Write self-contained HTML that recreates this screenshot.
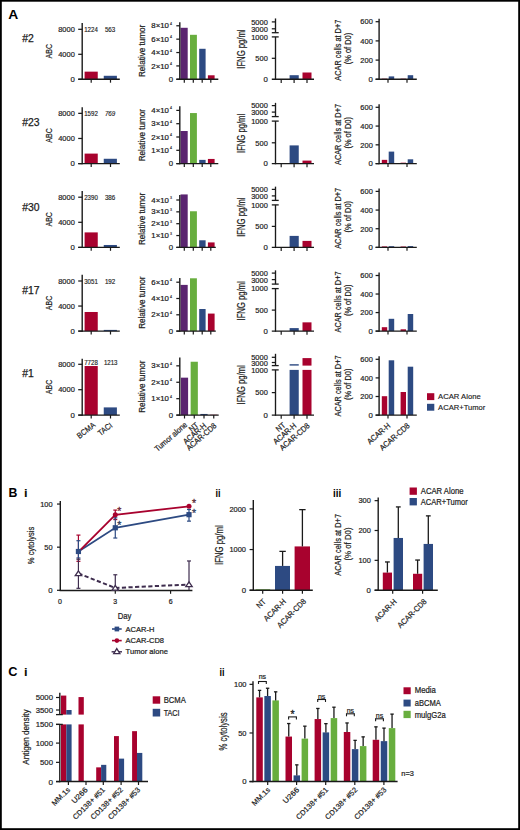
<!DOCTYPE html>
<html><head><meta charset="utf-8"><title>Figure</title>
<style>
html,body{margin:0;padding:0;background:#fff;overflow:hidden;width:520px;height:830px;}
svg{display:block;}
text{font-family:"Liberation Sans", sans-serif;}
</style></head>
<body>
<svg width="520" height="830" viewBox="0 0 520 830">
<rect x="0" y="0" width="520" height="830" fill="#fff"/>
<text x="8.30" y="18.80" font-size="13.6" fill="#000" text-anchor="start" font-weight="bold" textLength="10.0" lengthAdjust="spacingAndGlyphs">A</text>
<text x="8.40" y="497.20" font-size="13.0" fill="#000" text-anchor="start" font-weight="bold" textLength="8.9" lengthAdjust="spacingAndGlyphs">B</text>
<text x="24.30" y="497.30" font-size="11" fill="#000" text-anchor="start" stroke="#000" stroke-width="0.22" font-weight="bold">i</text>
<text x="215.40" y="497.30" font-size="11" fill="#000" text-anchor="start" font-weight="bold" textLength="5.0" lengthAdjust="spacingAndGlyphs">ii</text>
<text x="333.00" y="497.30" font-size="11" fill="#000" text-anchor="start" font-weight="bold" textLength="8.2" lengthAdjust="spacingAndGlyphs">iii</text>
<text x="8.20" y="675.60" font-size="13.0" fill="#000" text-anchor="start" font-weight="bold" textLength="9.2" lengthAdjust="spacingAndGlyphs">C</text>
<text x="24.30" y="675.50" font-size="11" fill="#000" text-anchor="start" stroke="#000" stroke-width="0.22" font-weight="bold">i</text>
<text x="219.50" y="675.50" font-size="11" fill="#000" text-anchor="start" font-weight="bold" textLength="5.0" lengthAdjust="spacingAndGlyphs">ii</text>
<text x="22.30" y="41.50" font-size="10.4" fill="#1a1a1a" text-anchor="start" stroke="#1a1a1a" stroke-width="0.25">#2</text>
<rect x="84.60" y="71.65" width="13.15" height="7.65" fill="#a8022e"/>
<rect x="103.75" y="75.78" width="13.15" height="3.52" fill="#2d4a82"/>
<line x1="82.20" y1="23.00" x2="82.20" y2="79.95" stroke="#1a1a1a" stroke-width="1.4" />
<line x1="78.30" y1="79.30" x2="119.80" y2="79.30" stroke="#1a1a1a" stroke-width="1.4" />
<line x1="78.20" y1="29.30" x2="82.20" y2="29.30" stroke="#1a1a1a" stroke-width="1.25" />
<text x="74.80" y="32.09" font-size="7.8" fill="#1c1c1c" text-anchor="end" stroke="#1c1c1c" stroke-width="0.2" textLength="16.6" lengthAdjust="spacingAndGlyphs">8000</text>
<line x1="78.20" y1="54.30" x2="82.20" y2="54.30" stroke="#1a1a1a" stroke-width="1.25" />
<text x="74.80" y="57.09" font-size="7.8" fill="#1c1c1c" text-anchor="end" stroke="#1c1c1c" stroke-width="0.2" textLength="16.6" lengthAdjust="spacingAndGlyphs">4000</text>
<line x1="78.20" y1="79.30" x2="82.20" y2="79.30" stroke="#1a1a1a" stroke-width="1.25" />
<text x="74.80" y="82.09" font-size="7.8" fill="#1c1c1c" text-anchor="end" stroke="#1c1c1c" stroke-width="0.2">0</text>
<line x1="91.20" y1="79.30" x2="91.20" y2="82.70" stroke="#1a1a1a" stroke-width="1.2" />
<line x1="110.50" y1="79.30" x2="110.50" y2="82.70" stroke="#1a1a1a" stroke-width="1.2" />
<text x="84.20" y="31.80" font-size="6.4" fill="#222" text-anchor="start" stroke="#222" stroke-width="0.15" textLength="13.6" lengthAdjust="spacingAndGlyphs">1224</text>
<text x="104.90" y="31.80" font-size="6.4" fill="#222" text-anchor="start" stroke="#222" stroke-width="0.15" textLength="10.4" lengthAdjust="spacingAndGlyphs">563</text>
<text transform="translate(51.70,51.20) rotate(-90)" font-size="8.4" fill="#1c1c1c" stroke="#1c1c1c" stroke-width="0.22" text-anchor="middle" textLength="14.5" lengthAdjust="spacingAndGlyphs">ABC</text>
<text transform="translate(144.70,50.90) rotate(-90)" font-size="8.5" fill="#1c1c1c" stroke="#1c1c1c" stroke-width="0.22" text-anchor="middle" textLength="52.2" lengthAdjust="spacingAndGlyphs">Relative tumor</text>
<text transform="translate(244.90,49.10) rotate(-90)" font-size="10.0" fill="#1c1c1c" stroke="#1c1c1c" stroke-width="0.22" text-anchor="middle" textLength="39.2" lengthAdjust="spacingAndGlyphs">IFNG pg/ml</text>
<text transform="translate(340.80,50.20) rotate(-90)" font-size="9.0" fill="#1c1c1c" stroke="#1c1c1c" stroke-width="0.22" text-anchor="middle" textLength="61.0" lengthAdjust="spacingAndGlyphs">ACAR cells at D+7</text>
<text transform="translate(351.40,48.55) rotate(-90)" font-size="9.0" fill="#1c1c1c" stroke="#1c1c1c" stroke-width="0.22" text-anchor="middle" textLength="31.5" lengthAdjust="spacingAndGlyphs">(% of D0)</text>
<text x="22.30" y="125.50" font-size="10.4" fill="#1a1a1a" text-anchor="start" stroke="#1a1a1a" stroke-width="0.25">#23</text>
<rect x="84.60" y="153.60" width="13.15" height="10.00" fill="#a8022e"/>
<rect x="103.75" y="158.77" width="13.15" height="4.83" fill="#2d4a82"/>
<line x1="82.20" y1="107.30" x2="82.20" y2="164.25" stroke="#1a1a1a" stroke-width="1.4" />
<line x1="78.30" y1="163.60" x2="119.80" y2="163.60" stroke="#1a1a1a" stroke-width="1.4" />
<line x1="78.20" y1="113.35" x2="82.20" y2="113.35" stroke="#1a1a1a" stroke-width="1.25" />
<text x="74.80" y="116.14" font-size="7.8" fill="#1c1c1c" text-anchor="end" stroke="#1c1c1c" stroke-width="0.2" textLength="16.6" lengthAdjust="spacingAndGlyphs">8000</text>
<line x1="78.20" y1="138.47" x2="82.20" y2="138.47" stroke="#1a1a1a" stroke-width="1.25" />
<text x="74.80" y="141.27" font-size="7.8" fill="#1c1c1c" text-anchor="end" stroke="#1c1c1c" stroke-width="0.2" textLength="16.6" lengthAdjust="spacingAndGlyphs">4000</text>
<line x1="78.20" y1="163.60" x2="82.20" y2="163.60" stroke="#1a1a1a" stroke-width="1.25" />
<text x="74.80" y="166.39" font-size="7.8" fill="#1c1c1c" text-anchor="end" stroke="#1c1c1c" stroke-width="0.2">0</text>
<line x1="91.20" y1="163.60" x2="91.20" y2="167.00" stroke="#1a1a1a" stroke-width="1.2" />
<line x1="110.50" y1="163.60" x2="110.50" y2="167.00" stroke="#1a1a1a" stroke-width="1.2" />
<text x="84.20" y="116.10" font-size="6.4" fill="#222" text-anchor="start" stroke="#222" stroke-width="0.15" textLength="13.6" lengthAdjust="spacingAndGlyphs">1592</text>
<text x="104.90" y="116.10" font-size="6.4" fill="#222" text-anchor="start" stroke="#222" stroke-width="0.15" textLength="10.4" lengthAdjust="spacingAndGlyphs" style="font-style:italic">769</text>
<text transform="translate(51.70,135.50) rotate(-90)" font-size="8.4" fill="#1c1c1c" stroke="#1c1c1c" stroke-width="0.22" text-anchor="middle" textLength="14.5" lengthAdjust="spacingAndGlyphs">ABC</text>
<text transform="translate(144.70,135.20) rotate(-90)" font-size="8.5" fill="#1c1c1c" stroke="#1c1c1c" stroke-width="0.22" text-anchor="middle" textLength="52.2" lengthAdjust="spacingAndGlyphs">Relative tumor</text>
<text transform="translate(244.90,133.40) rotate(-90)" font-size="10.0" fill="#1c1c1c" stroke="#1c1c1c" stroke-width="0.22" text-anchor="middle" textLength="39.2" lengthAdjust="spacingAndGlyphs">IFNG pg/ml</text>
<text transform="translate(340.80,134.50) rotate(-90)" font-size="9.0" fill="#1c1c1c" stroke="#1c1c1c" stroke-width="0.22" text-anchor="middle" textLength="61.0" lengthAdjust="spacingAndGlyphs">ACAR cells at D+7</text>
<text transform="translate(351.40,132.85) rotate(-90)" font-size="9.0" fill="#1c1c1c" stroke="#1c1c1c" stroke-width="0.22" text-anchor="middle" textLength="31.5" lengthAdjust="spacingAndGlyphs">(% of D0)</text>
<text x="22.30" y="211.30" font-size="10.4" fill="#1a1a1a" text-anchor="start" stroke="#1a1a1a" stroke-width="0.25">#30</text>
<rect x="84.60" y="232.40" width="13.15" height="15.00" fill="#a8022e"/>
<rect x="103.75" y="244.98" width="13.15" height="2.42" fill="#2d4a82"/>
<line x1="82.20" y1="191.10" x2="82.20" y2="248.05" stroke="#1a1a1a" stroke-width="1.4" />
<line x1="78.30" y1="247.40" x2="119.80" y2="247.40" stroke="#1a1a1a" stroke-width="1.4" />
<line x1="78.20" y1="197.20" x2="82.20" y2="197.20" stroke="#1a1a1a" stroke-width="1.25" />
<text x="74.80" y="199.99" font-size="7.8" fill="#1c1c1c" text-anchor="end" stroke="#1c1c1c" stroke-width="0.2" textLength="16.6" lengthAdjust="spacingAndGlyphs">8000</text>
<line x1="78.20" y1="222.30" x2="82.20" y2="222.30" stroke="#1a1a1a" stroke-width="1.25" />
<text x="74.80" y="225.09" font-size="7.8" fill="#1c1c1c" text-anchor="end" stroke="#1c1c1c" stroke-width="0.2" textLength="16.6" lengthAdjust="spacingAndGlyphs">4000</text>
<line x1="78.20" y1="247.40" x2="82.20" y2="247.40" stroke="#1a1a1a" stroke-width="1.25" />
<text x="74.80" y="250.19" font-size="7.8" fill="#1c1c1c" text-anchor="end" stroke="#1c1c1c" stroke-width="0.2">0</text>
<line x1="91.20" y1="247.40" x2="91.20" y2="250.80" stroke="#1a1a1a" stroke-width="1.2" />
<line x1="110.50" y1="247.40" x2="110.50" y2="250.80" stroke="#1a1a1a" stroke-width="1.2" />
<text x="84.20" y="199.90" font-size="6.4" fill="#222" text-anchor="start" stroke="#222" stroke-width="0.15" textLength="13.6" lengthAdjust="spacingAndGlyphs">2390</text>
<text x="104.90" y="199.90" font-size="6.4" fill="#222" text-anchor="start" stroke="#222" stroke-width="0.15" textLength="10.4" lengthAdjust="spacingAndGlyphs">386</text>
<text transform="translate(51.70,219.30) rotate(-90)" font-size="8.4" fill="#1c1c1c" stroke="#1c1c1c" stroke-width="0.22" text-anchor="middle" textLength="14.5" lengthAdjust="spacingAndGlyphs">ABC</text>
<text transform="translate(144.70,219.00) rotate(-90)" font-size="8.5" fill="#1c1c1c" stroke="#1c1c1c" stroke-width="0.22" text-anchor="middle" textLength="52.2" lengthAdjust="spacingAndGlyphs">Relative tumor</text>
<text transform="translate(244.90,217.20) rotate(-90)" font-size="10.0" fill="#1c1c1c" stroke="#1c1c1c" stroke-width="0.22" text-anchor="middle" textLength="39.2" lengthAdjust="spacingAndGlyphs">IFNG pg/ml</text>
<text transform="translate(340.80,218.30) rotate(-90)" font-size="9.0" fill="#1c1c1c" stroke="#1c1c1c" stroke-width="0.22" text-anchor="middle" textLength="61.0" lengthAdjust="spacingAndGlyphs">ACAR cells at D+7</text>
<text transform="translate(351.40,216.65) rotate(-90)" font-size="9.0" fill="#1c1c1c" stroke="#1c1c1c" stroke-width="0.22" text-anchor="middle" textLength="31.5" lengthAdjust="spacingAndGlyphs">(% of D0)</text>
<text x="22.30" y="293.90" font-size="10.4" fill="#1a1a1a" text-anchor="start" stroke="#1a1a1a" stroke-width="0.25">#17</text>
<rect x="84.60" y="311.99" width="13.15" height="19.11" fill="#a8022e"/>
<rect x="103.75" y="329.90" width="13.15" height="1.20" fill="#2d4a82"/>
<line x1="82.20" y1="274.80" x2="82.20" y2="331.75" stroke="#1a1a1a" stroke-width="1.4" />
<line x1="78.30" y1="331.10" x2="119.80" y2="331.10" stroke="#1a1a1a" stroke-width="1.4" />
<line x1="78.20" y1="281.00" x2="82.20" y2="281.00" stroke="#1a1a1a" stroke-width="1.25" />
<text x="74.80" y="283.79" font-size="7.8" fill="#1c1c1c" text-anchor="end" stroke="#1c1c1c" stroke-width="0.2" textLength="16.6" lengthAdjust="spacingAndGlyphs">8000</text>
<line x1="78.20" y1="306.05" x2="82.20" y2="306.05" stroke="#1a1a1a" stroke-width="1.25" />
<text x="74.80" y="308.84" font-size="7.8" fill="#1c1c1c" text-anchor="end" stroke="#1c1c1c" stroke-width="0.2" textLength="16.6" lengthAdjust="spacingAndGlyphs">4000</text>
<line x1="78.20" y1="331.10" x2="82.20" y2="331.10" stroke="#1a1a1a" stroke-width="1.25" />
<text x="74.80" y="333.89" font-size="7.8" fill="#1c1c1c" text-anchor="end" stroke="#1c1c1c" stroke-width="0.2">0</text>
<line x1="91.20" y1="331.10" x2="91.20" y2="334.50" stroke="#1a1a1a" stroke-width="1.2" />
<line x1="110.50" y1="331.10" x2="110.50" y2="334.50" stroke="#1a1a1a" stroke-width="1.2" />
<text x="84.20" y="283.60" font-size="6.4" fill="#222" text-anchor="start" stroke="#222" stroke-width="0.15" textLength="13.6" lengthAdjust="spacingAndGlyphs">3051</text>
<text x="104.90" y="283.60" font-size="6.4" fill="#222" text-anchor="start" stroke="#222" stroke-width="0.15" textLength="10.4" lengthAdjust="spacingAndGlyphs">192</text>
<text transform="translate(51.70,303.00) rotate(-90)" font-size="8.4" fill="#1c1c1c" stroke="#1c1c1c" stroke-width="0.22" text-anchor="middle" textLength="14.5" lengthAdjust="spacingAndGlyphs">ABC</text>
<text transform="translate(144.70,302.70) rotate(-90)" font-size="8.5" fill="#1c1c1c" stroke="#1c1c1c" stroke-width="0.22" text-anchor="middle" textLength="52.2" lengthAdjust="spacingAndGlyphs">Relative tumor</text>
<text transform="translate(244.90,300.90) rotate(-90)" font-size="10.0" fill="#1c1c1c" stroke="#1c1c1c" stroke-width="0.22" text-anchor="middle" textLength="39.2" lengthAdjust="spacingAndGlyphs">IFNG pg/ml</text>
<text transform="translate(340.80,302.00) rotate(-90)" font-size="9.0" fill="#1c1c1c" stroke="#1c1c1c" stroke-width="0.22" text-anchor="middle" textLength="61.0" lengthAdjust="spacingAndGlyphs">ACAR cells at D+7</text>
<text transform="translate(351.40,300.35) rotate(-90)" font-size="9.0" fill="#1c1c1c" stroke="#1c1c1c" stroke-width="0.22" text-anchor="middle" textLength="31.5" lengthAdjust="spacingAndGlyphs">(% of D0)</text>
<text x="22.30" y="376.50" font-size="10.4" fill="#1a1a1a" text-anchor="start" stroke="#1a1a1a" stroke-width="0.25">#1</text>
<rect x="84.60" y="366.03" width="13.15" height="49.07" fill="#a8022e"/>
<rect x="103.75" y="407.40" width="13.15" height="7.70" fill="#2d4a82"/>
<line x1="82.20" y1="358.80" x2="82.20" y2="415.75" stroke="#1a1a1a" stroke-width="1.4" />
<line x1="78.30" y1="415.10" x2="119.80" y2="415.10" stroke="#1a1a1a" stroke-width="1.4" />
<line x1="78.20" y1="364.30" x2="82.20" y2="364.30" stroke="#1a1a1a" stroke-width="1.25" />
<text x="74.80" y="367.09" font-size="7.8" fill="#1c1c1c" text-anchor="end" stroke="#1c1c1c" stroke-width="0.2" textLength="16.6" lengthAdjust="spacingAndGlyphs">8000</text>
<line x1="78.20" y1="389.70" x2="82.20" y2="389.70" stroke="#1a1a1a" stroke-width="1.25" />
<text x="74.80" y="392.49" font-size="7.8" fill="#1c1c1c" text-anchor="end" stroke="#1c1c1c" stroke-width="0.2" textLength="16.6" lengthAdjust="spacingAndGlyphs">4000</text>
<line x1="78.20" y1="415.10" x2="82.20" y2="415.10" stroke="#1a1a1a" stroke-width="1.25" />
<text x="74.80" y="417.89" font-size="7.8" fill="#1c1c1c" text-anchor="end" stroke="#1c1c1c" stroke-width="0.2">0</text>
<line x1="91.20" y1="415.10" x2="91.20" y2="418.50" stroke="#1a1a1a" stroke-width="1.2" />
<line x1="110.50" y1="415.10" x2="110.50" y2="418.50" stroke="#1a1a1a" stroke-width="1.2" />
<text x="84.20" y="364.60" font-size="6.4" fill="#222" text-anchor="start" stroke="#222" stroke-width="0.15" textLength="13.6" lengthAdjust="spacingAndGlyphs">7728</text>
<text x="103.90" y="364.60" font-size="6.4" fill="#222" text-anchor="start" stroke="#222" stroke-width="0.15" textLength="13.6" lengthAdjust="spacingAndGlyphs">1213</text>
<text transform="translate(51.70,387.00) rotate(-90)" font-size="8.4" fill="#1c1c1c" stroke="#1c1c1c" stroke-width="0.22" text-anchor="middle" textLength="14.5" lengthAdjust="spacingAndGlyphs">ABC</text>
<text transform="translate(144.70,386.70) rotate(-90)" font-size="8.5" fill="#1c1c1c" stroke="#1c1c1c" stroke-width="0.22" text-anchor="middle" textLength="52.2" lengthAdjust="spacingAndGlyphs">Relative tumor</text>
<text transform="translate(244.90,384.90) rotate(-90)" font-size="10.0" fill="#1c1c1c" stroke="#1c1c1c" stroke-width="0.22" text-anchor="middle" textLength="39.2" lengthAdjust="spacingAndGlyphs">IFNG pg/ml</text>
<text transform="translate(340.80,386.00) rotate(-90)" font-size="9.0" fill="#1c1c1c" stroke="#1c1c1c" stroke-width="0.22" text-anchor="middle" textLength="61.0" lengthAdjust="spacingAndGlyphs">ACAR cells at D+7</text>
<text transform="translate(351.40,384.35) rotate(-90)" font-size="9.0" fill="#1c1c1c" stroke="#1c1c1c" stroke-width="0.22" text-anchor="middle" textLength="31.5" lengthAdjust="spacingAndGlyphs">(% of D0)</text>
<rect x="180.50" y="27.79" width="7.20" height="51.51" fill="#5a2470"/>
<rect x="190.00" y="34.81" width="6.90" height="44.49" fill="#68ae3e"/>
<rect x="199.20" y="48.79" width="6.40" height="30.51" fill="#2d4a82"/>
<rect x="207.90" y="75.29" width="6.70" height="4.01" fill="#a8022e"/>
<line x1="179.80" y1="22.30" x2="179.80" y2="79.95" stroke="#1a1a1a" stroke-width="1.4" />
<line x1="176.40" y1="79.30" x2="218.30" y2="79.30" stroke="#1a1a1a" stroke-width="1.4" />
<line x1="184.30" y1="79.30" x2="184.30" y2="82.70" stroke="#1a1a1a" stroke-width="1.2" />
<line x1="193.30" y1="79.30" x2="193.30" y2="82.70" stroke="#1a1a1a" stroke-width="1.2" />
<line x1="202.20" y1="79.30" x2="202.20" y2="82.70" stroke="#1a1a1a" stroke-width="1.2" />
<line x1="210.80" y1="79.30" x2="210.80" y2="82.70" stroke="#1a1a1a" stroke-width="1.2" />
<line x1="176.30" y1="25.78" x2="179.80" y2="25.78" stroke="#1a1a1a" stroke-width="1.25" />
<text x="151.30" y="28.38" font-size="7.3" fill="#1c1c1c" text-anchor="start" stroke="#1c1c1c" stroke-width="0.22" textLength="17.6" lengthAdjust="spacingAndGlyphs">8×10</text>
<text x="170.00" y="24.78" font-size="4.0" fill="#1c1c1c" text-anchor="start" stroke="#1c1c1c" stroke-width="0.15" textLength="2.0" lengthAdjust="spacingAndGlyphs">4</text>
<line x1="176.30" y1="39.16" x2="179.80" y2="39.16" stroke="#1a1a1a" stroke-width="1.25" />
<text x="151.30" y="41.76" font-size="7.3" fill="#1c1c1c" text-anchor="start" stroke="#1c1c1c" stroke-width="0.22" textLength="17.6" lengthAdjust="spacingAndGlyphs">6×10</text>
<text x="170.00" y="38.16" font-size="4.0" fill="#1c1c1c" text-anchor="start" stroke="#1c1c1c" stroke-width="0.15" textLength="2.0" lengthAdjust="spacingAndGlyphs">4</text>
<line x1="176.30" y1="52.54" x2="179.80" y2="52.54" stroke="#1a1a1a" stroke-width="1.25" />
<text x="151.30" y="55.14" font-size="7.3" fill="#1c1c1c" text-anchor="start" stroke="#1c1c1c" stroke-width="0.22" textLength="17.6" lengthAdjust="spacingAndGlyphs">4×10</text>
<text x="170.00" y="51.54" font-size="4.0" fill="#1c1c1c" text-anchor="start" stroke="#1c1c1c" stroke-width="0.15" textLength="2.0" lengthAdjust="spacingAndGlyphs">4</text>
<line x1="176.30" y1="65.92" x2="179.80" y2="65.92" stroke="#1a1a1a" stroke-width="1.25" />
<text x="151.30" y="68.52" font-size="7.3" fill="#1c1c1c" text-anchor="start" stroke="#1c1c1c" stroke-width="0.22" textLength="17.6" lengthAdjust="spacingAndGlyphs">2×10</text>
<text x="170.00" y="64.92" font-size="4.0" fill="#1c1c1c" text-anchor="start" stroke="#1c1c1c" stroke-width="0.15" textLength="2.0" lengthAdjust="spacingAndGlyphs">4</text>
<line x1="176.30" y1="79.30" x2="179.80" y2="79.30" stroke="#1a1a1a" stroke-width="1.25" />
<text x="173.00" y="82.09" font-size="7.8" fill="#1c1c1c" text-anchor="end" stroke="#1c1c1c" stroke-width="0.2">0</text>
<rect x="180.50" y="131.01" width="7.20" height="32.59" fill="#5a2470"/>
<rect x="190.00" y="113.06" width="6.90" height="50.54" fill="#68ae3e"/>
<rect x="199.20" y="159.88" width="6.40" height="3.72" fill="#2d4a82"/>
<rect x="207.90" y="158.94" width="6.70" height="4.66" fill="#a8022e"/>
<line x1="179.80" y1="106.30" x2="179.80" y2="164.25" stroke="#1a1a1a" stroke-width="1.4" />
<line x1="176.40" y1="163.60" x2="218.30" y2="163.60" stroke="#1a1a1a" stroke-width="1.4" />
<line x1="184.30" y1="163.60" x2="184.30" y2="167.00" stroke="#1a1a1a" stroke-width="1.2" />
<line x1="193.30" y1="163.60" x2="193.30" y2="167.00" stroke="#1a1a1a" stroke-width="1.2" />
<line x1="202.20" y1="163.60" x2="202.20" y2="167.00" stroke="#1a1a1a" stroke-width="1.2" />
<line x1="210.80" y1="163.60" x2="210.80" y2="167.00" stroke="#1a1a1a" stroke-width="1.2" />
<line x1="176.30" y1="110.40" x2="179.80" y2="110.40" stroke="#1a1a1a" stroke-width="1.25" />
<text x="151.30" y="113.00" font-size="7.3" fill="#1c1c1c" text-anchor="start" stroke="#1c1c1c" stroke-width="0.22" textLength="17.6" lengthAdjust="spacingAndGlyphs">4×10</text>
<text x="170.00" y="109.40" font-size="4.0" fill="#1c1c1c" text-anchor="start" stroke="#1c1c1c" stroke-width="0.15" textLength="2.0" lengthAdjust="spacingAndGlyphs">4</text>
<line x1="176.30" y1="123.70" x2="179.80" y2="123.70" stroke="#1a1a1a" stroke-width="1.25" />
<text x="151.30" y="126.30" font-size="7.3" fill="#1c1c1c" text-anchor="start" stroke="#1c1c1c" stroke-width="0.22" textLength="17.6" lengthAdjust="spacingAndGlyphs">3×10</text>
<text x="170.00" y="122.70" font-size="4.0" fill="#1c1c1c" text-anchor="start" stroke="#1c1c1c" stroke-width="0.15" textLength="2.0" lengthAdjust="spacingAndGlyphs">4</text>
<line x1="176.30" y1="137.00" x2="179.80" y2="137.00" stroke="#1a1a1a" stroke-width="1.25" />
<text x="151.30" y="139.60" font-size="7.3" fill="#1c1c1c" text-anchor="start" stroke="#1c1c1c" stroke-width="0.22" textLength="17.6" lengthAdjust="spacingAndGlyphs">2×10</text>
<text x="170.00" y="136.00" font-size="4.0" fill="#1c1c1c" text-anchor="start" stroke="#1c1c1c" stroke-width="0.15" textLength="2.0" lengthAdjust="spacingAndGlyphs">4</text>
<line x1="176.30" y1="150.30" x2="179.80" y2="150.30" stroke="#1a1a1a" stroke-width="1.25" />
<text x="151.30" y="152.90" font-size="7.3" fill="#1c1c1c" text-anchor="start" stroke="#1c1c1c" stroke-width="0.22" textLength="17.6" lengthAdjust="spacingAndGlyphs">1×10</text>
<text x="170.00" y="149.30" font-size="4.0" fill="#1c1c1c" text-anchor="start" stroke="#1c1c1c" stroke-width="0.15" textLength="2.0" lengthAdjust="spacingAndGlyphs">4</text>
<line x1="176.30" y1="163.60" x2="179.80" y2="163.60" stroke="#1a1a1a" stroke-width="1.25" />
<text x="173.00" y="166.39" font-size="7.8" fill="#1c1c1c" text-anchor="end" stroke="#1c1c1c" stroke-width="0.2">0</text>
<rect x="180.50" y="194.43" width="7.20" height="52.97" fill="#5a2470"/>
<rect x="190.00" y="211.26" width="6.90" height="36.14" fill="#68ae3e"/>
<rect x="199.20" y="240.29" width="6.40" height="7.11" fill="#2d4a82"/>
<rect x="207.90" y="242.42" width="6.70" height="4.98" fill="#a8022e"/>
<line x1="179.80" y1="194.90" x2="179.80" y2="248.05" stroke="#1a1a1a" stroke-width="1.4" />
<line x1="176.40" y1="247.40" x2="215.80" y2="247.40" stroke="#1a1a1a" stroke-width="1.4" />
<line x1="184.30" y1="247.40" x2="184.30" y2="250.80" stroke="#1a1a1a" stroke-width="1.2" />
<line x1="193.30" y1="247.40" x2="193.30" y2="250.80" stroke="#1a1a1a" stroke-width="1.2" />
<line x1="202.20" y1="247.40" x2="202.20" y2="250.80" stroke="#1a1a1a" stroke-width="1.2" />
<line x1="210.80" y1="247.40" x2="210.80" y2="250.80" stroke="#1a1a1a" stroke-width="1.2" />
<line x1="176.30" y1="200.00" x2="179.80" y2="200.00" stroke="#1a1a1a" stroke-width="1.25" />
<text x="151.30" y="202.60" font-size="7.3" fill="#1c1c1c" text-anchor="start" stroke="#1c1c1c" stroke-width="0.22" textLength="17.6" lengthAdjust="spacingAndGlyphs">4×10</text>
<text x="170.00" y="199.00" font-size="4.0" fill="#1c1c1c" text-anchor="start" stroke="#1c1c1c" stroke-width="0.15" textLength="2.0" lengthAdjust="spacingAndGlyphs">3</text>
<line x1="176.30" y1="211.85" x2="179.80" y2="211.85" stroke="#1a1a1a" stroke-width="1.25" />
<text x="151.30" y="214.45" font-size="7.3" fill="#1c1c1c" text-anchor="start" stroke="#1c1c1c" stroke-width="0.22" textLength="17.6" lengthAdjust="spacingAndGlyphs">3×10</text>
<text x="170.00" y="210.85" font-size="4.0" fill="#1c1c1c" text-anchor="start" stroke="#1c1c1c" stroke-width="0.15" textLength="2.0" lengthAdjust="spacingAndGlyphs">3</text>
<line x1="176.30" y1="223.70" x2="179.80" y2="223.70" stroke="#1a1a1a" stroke-width="1.25" />
<text x="151.30" y="226.30" font-size="7.3" fill="#1c1c1c" text-anchor="start" stroke="#1c1c1c" stroke-width="0.22" textLength="17.6" lengthAdjust="spacingAndGlyphs">2×10</text>
<text x="170.00" y="222.70" font-size="4.0" fill="#1c1c1c" text-anchor="start" stroke="#1c1c1c" stroke-width="0.15" textLength="2.0" lengthAdjust="spacingAndGlyphs">3</text>
<line x1="176.30" y1="235.55" x2="179.80" y2="235.55" stroke="#1a1a1a" stroke-width="1.25" />
<text x="151.30" y="238.15" font-size="7.3" fill="#1c1c1c" text-anchor="start" stroke="#1c1c1c" stroke-width="0.22" textLength="17.6" lengthAdjust="spacingAndGlyphs">1×10</text>
<text x="170.00" y="234.55" font-size="4.0" fill="#1c1c1c" text-anchor="start" stroke="#1c1c1c" stroke-width="0.15" textLength="2.0" lengthAdjust="spacingAndGlyphs">3</text>
<line x1="176.30" y1="247.40" x2="179.80" y2="247.40" stroke="#1a1a1a" stroke-width="1.25" />
<text x="173.00" y="250.19" font-size="7.8" fill="#1c1c1c" text-anchor="end" stroke="#1c1c1c" stroke-width="0.2">0</text>
<rect x="180.50" y="284.89" width="7.20" height="46.21" fill="#5a2470"/>
<rect x="190.00" y="278.29" width="6.90" height="52.81" fill="#68ae3e"/>
<rect x="199.20" y="309.01" width="6.40" height="22.09" fill="#2d4a82"/>
<rect x="207.90" y="313.58" width="6.70" height="17.52" fill="#a8022e"/>
<line x1="179.80" y1="277.90" x2="179.80" y2="331.75" stroke="#1a1a1a" stroke-width="1.4" />
<line x1="176.40" y1="331.10" x2="215.80" y2="331.10" stroke="#1a1a1a" stroke-width="1.4" />
<line x1="184.30" y1="331.10" x2="184.30" y2="334.50" stroke="#1a1a1a" stroke-width="1.2" />
<line x1="193.30" y1="331.10" x2="193.30" y2="334.50" stroke="#1a1a1a" stroke-width="1.2" />
<line x1="202.20" y1="331.10" x2="202.20" y2="334.50" stroke="#1a1a1a" stroke-width="1.2" />
<line x1="210.80" y1="331.10" x2="210.80" y2="334.50" stroke="#1a1a1a" stroke-width="1.2" />
<line x1="176.30" y1="282.20" x2="179.80" y2="282.20" stroke="#1a1a1a" stroke-width="1.25" />
<text x="151.30" y="284.80" font-size="7.3" fill="#1c1c1c" text-anchor="start" stroke="#1c1c1c" stroke-width="0.22" textLength="17.6" lengthAdjust="spacingAndGlyphs">6×10</text>
<text x="170.00" y="281.20" font-size="4.0" fill="#1c1c1c" text-anchor="start" stroke="#1c1c1c" stroke-width="0.15" textLength="2.0" lengthAdjust="spacingAndGlyphs">4</text>
<line x1="176.30" y1="298.50" x2="179.80" y2="298.50" stroke="#1a1a1a" stroke-width="1.25" />
<text x="151.30" y="301.10" font-size="7.3" fill="#1c1c1c" text-anchor="start" stroke="#1c1c1c" stroke-width="0.22" textLength="17.6" lengthAdjust="spacingAndGlyphs">4×10</text>
<text x="170.00" y="297.50" font-size="4.0" fill="#1c1c1c" text-anchor="start" stroke="#1c1c1c" stroke-width="0.15" textLength="2.0" lengthAdjust="spacingAndGlyphs">4</text>
<line x1="176.30" y1="314.80" x2="179.80" y2="314.80" stroke="#1a1a1a" stroke-width="1.25" />
<text x="151.30" y="317.40" font-size="7.3" fill="#1c1c1c" text-anchor="start" stroke="#1c1c1c" stroke-width="0.22" textLength="17.6" lengthAdjust="spacingAndGlyphs">2×10</text>
<text x="170.00" y="313.80" font-size="4.0" fill="#1c1c1c" text-anchor="start" stroke="#1c1c1c" stroke-width="0.15" textLength="2.0" lengthAdjust="spacingAndGlyphs">4</text>
<line x1="176.30" y1="331.10" x2="179.80" y2="331.10" stroke="#1a1a1a" stroke-width="1.25" />
<text x="173.00" y="333.89" font-size="7.8" fill="#1c1c1c" text-anchor="end" stroke="#1c1c1c" stroke-width="0.2">0</text>
<rect x="180.90" y="377.66" width="7.20" height="37.44" fill="#5a2470"/>
<rect x="190.65" y="361.74" width="7.20" height="53.37" fill="#68ae3e"/>
<rect x="200.40" y="413.95" width="7.20" height="1.15" fill="#2d4a82"/>
<rect x="210.15" y="414.77" width="7.20" height="0.33" fill="#a8022e"/>
<line x1="179.80" y1="357.60" x2="179.80" y2="415.75" stroke="#1a1a1a" stroke-width="1.4" />
<line x1="176.40" y1="415.10" x2="218.70" y2="415.10" stroke="#1a1a1a" stroke-width="1.4" />
<line x1="184.50" y1="415.10" x2="184.50" y2="418.50" stroke="#1a1a1a" stroke-width="1.2" />
<line x1="194.25" y1="415.10" x2="194.25" y2="418.50" stroke="#1a1a1a" stroke-width="1.2" />
<line x1="204.00" y1="415.10" x2="204.00" y2="418.50" stroke="#1a1a1a" stroke-width="1.2" />
<line x1="213.75" y1="415.10" x2="213.75" y2="418.50" stroke="#1a1a1a" stroke-width="1.2" />
<line x1="176.30" y1="365.84" x2="179.80" y2="365.84" stroke="#1a1a1a" stroke-width="1.25" />
<text x="151.30" y="368.44" font-size="7.3" fill="#1c1c1c" text-anchor="start" stroke="#1c1c1c" stroke-width="0.22" textLength="17.6" lengthAdjust="spacingAndGlyphs">3×10</text>
<text x="170.00" y="364.84" font-size="4.0" fill="#1c1c1c" text-anchor="start" stroke="#1c1c1c" stroke-width="0.15" textLength="2.0" lengthAdjust="spacingAndGlyphs">4</text>
<line x1="176.30" y1="382.26" x2="179.80" y2="382.26" stroke="#1a1a1a" stroke-width="1.25" />
<text x="151.30" y="384.86" font-size="7.3" fill="#1c1c1c" text-anchor="start" stroke="#1c1c1c" stroke-width="0.22" textLength="17.6" lengthAdjust="spacingAndGlyphs">2×10</text>
<text x="170.00" y="381.26" font-size="4.0" fill="#1c1c1c" text-anchor="start" stroke="#1c1c1c" stroke-width="0.15" textLength="2.0" lengthAdjust="spacingAndGlyphs">4</text>
<line x1="176.30" y1="398.68" x2="179.80" y2="398.68" stroke="#1a1a1a" stroke-width="1.25" />
<text x="151.30" y="401.28" font-size="7.3" fill="#1c1c1c" text-anchor="start" stroke="#1c1c1c" stroke-width="0.22" textLength="17.6" lengthAdjust="spacingAndGlyphs">1×10</text>
<text x="170.00" y="397.68" font-size="4.0" fill="#1c1c1c" text-anchor="start" stroke="#1c1c1c" stroke-width="0.15" textLength="2.0" lengthAdjust="spacingAndGlyphs">4</text>
<line x1="176.30" y1="415.10" x2="179.80" y2="415.10" stroke="#1a1a1a" stroke-width="1.25" />
<text x="173.00" y="417.89" font-size="7.8" fill="#1c1c1c" text-anchor="end" stroke="#1c1c1c" stroke-width="0.2">0</text>
<rect x="289.60" y="75.20" width="9.15" height="4.10" fill="#2d4a82"/>
<rect x="302.50" y="72.50" width="9.00" height="6.80" fill="#a8022e"/>
<line x1="275.50" y1="18.45" x2="275.50" y2="32.70" stroke="#1a1a1a" stroke-width="1.35" />
<line x1="275.50" y1="36.90" x2="275.50" y2="79.95" stroke="#1a1a1a" stroke-width="1.35" />
<line x1="271.80" y1="32.70" x2="278.70" y2="32.70" stroke="#1a1a1a" stroke-width="1.3" />
<line x1="271.80" y1="36.90" x2="278.70" y2="36.90" stroke="#1a1a1a" stroke-width="1.3" />
<line x1="271.80" y1="79.30" x2="314.00" y2="79.30" stroke="#1a1a1a" stroke-width="1.4" />
<line x1="271.80" y1="21.90" x2="275.50" y2="21.90" stroke="#1a1a1a" stroke-width="1.25" />
<line x1="271.80" y1="28.80" x2="275.50" y2="28.80" stroke="#1a1a1a" stroke-width="1.25" />
<line x1="271.80" y1="58.30" x2="275.50" y2="58.30" stroke="#1a1a1a" stroke-width="1.25" />
<line x1="281.20" y1="79.30" x2="281.20" y2="82.90" stroke="#1a1a1a" stroke-width="1.2" />
<line x1="294.10" y1="79.30" x2="294.10" y2="82.90" stroke="#1a1a1a" stroke-width="1.2" />
<line x1="307.00" y1="79.30" x2="307.00" y2="82.90" stroke="#1a1a1a" stroke-width="1.2" />
<text x="267.80" y="24.69" font-size="7.8" fill="#1c1c1c" text-anchor="end" stroke="#1c1c1c" stroke-width="0.2" textLength="16.6" lengthAdjust="spacingAndGlyphs">5000</text>
<text x="267.80" y="31.89" font-size="7.8" fill="#1c1c1c" text-anchor="end" stroke="#1c1c1c" stroke-width="0.2" textLength="16.6" lengthAdjust="spacingAndGlyphs">3000</text>
<text x="267.80" y="39.69" font-size="7.8" fill="#1c1c1c" text-anchor="end" stroke="#1c1c1c" stroke-width="0.2" textLength="16.6" lengthAdjust="spacingAndGlyphs">1000</text>
<text x="267.80" y="61.09" font-size="7.8" fill="#1c1c1c" text-anchor="end" stroke="#1c1c1c" stroke-width="0.2" textLength="12.45" lengthAdjust="spacingAndGlyphs">500</text>
<text x="267.80" y="82.09" font-size="7.8" fill="#1c1c1c" text-anchor="end" stroke="#1c1c1c" stroke-width="0.2">0</text>
<rect x="289.60" y="145.40" width="9.15" height="18.20" fill="#2d4a82"/>
<rect x="302.50" y="160.60" width="9.00" height="3.00" fill="#a8022e"/>
<line x1="275.50" y1="102.85" x2="275.50" y2="116.60" stroke="#1a1a1a" stroke-width="1.35" />
<line x1="275.50" y1="121.10" x2="275.50" y2="164.25" stroke="#1a1a1a" stroke-width="1.35" />
<line x1="271.80" y1="116.60" x2="278.70" y2="116.60" stroke="#1a1a1a" stroke-width="1.3" />
<line x1="271.80" y1="121.10" x2="278.70" y2="121.10" stroke="#1a1a1a" stroke-width="1.3" />
<line x1="271.80" y1="163.60" x2="314.00" y2="163.60" stroke="#1a1a1a" stroke-width="1.4" />
<line x1="271.80" y1="105.60" x2="275.50" y2="105.60" stroke="#1a1a1a" stroke-width="1.25" />
<line x1="271.80" y1="112.10" x2="275.50" y2="112.10" stroke="#1a1a1a" stroke-width="1.25" />
<line x1="271.80" y1="142.80" x2="275.50" y2="142.80" stroke="#1a1a1a" stroke-width="1.25" />
<line x1="281.20" y1="163.60" x2="281.20" y2="167.20" stroke="#1a1a1a" stroke-width="1.2" />
<line x1="294.10" y1="163.60" x2="294.10" y2="167.20" stroke="#1a1a1a" stroke-width="1.2" />
<line x1="307.00" y1="163.60" x2="307.00" y2="167.20" stroke="#1a1a1a" stroke-width="1.2" />
<text x="267.80" y="108.39" font-size="7.8" fill="#1c1c1c" text-anchor="end" stroke="#1c1c1c" stroke-width="0.2" textLength="16.6" lengthAdjust="spacingAndGlyphs">5000</text>
<text x="267.80" y="115.19" font-size="7.8" fill="#1c1c1c" text-anchor="end" stroke="#1c1c1c" stroke-width="0.2" textLength="16.6" lengthAdjust="spacingAndGlyphs">3000</text>
<text x="267.80" y="123.89" font-size="7.8" fill="#1c1c1c" text-anchor="end" stroke="#1c1c1c" stroke-width="0.2" textLength="16.6" lengthAdjust="spacingAndGlyphs">1000</text>
<text x="267.80" y="145.59" font-size="7.8" fill="#1c1c1c" text-anchor="end" stroke="#1c1c1c" stroke-width="0.2" textLength="12.45" lengthAdjust="spacingAndGlyphs">500</text>
<text x="267.80" y="166.39" font-size="7.8" fill="#1c1c1c" text-anchor="end" stroke="#1c1c1c" stroke-width="0.2">0</text>
<rect x="289.60" y="235.90" width="9.15" height="11.50" fill="#2d4a82"/>
<rect x="302.50" y="240.90" width="9.00" height="6.50" fill="#a8022e"/>
<line x1="275.50" y1="186.65" x2="275.50" y2="200.40" stroke="#1a1a1a" stroke-width="1.35" />
<line x1="275.50" y1="204.90" x2="275.50" y2="248.05" stroke="#1a1a1a" stroke-width="1.35" />
<line x1="271.80" y1="200.40" x2="278.70" y2="200.40" stroke="#1a1a1a" stroke-width="1.3" />
<line x1="271.80" y1="204.90" x2="278.70" y2="204.90" stroke="#1a1a1a" stroke-width="1.3" />
<line x1="271.80" y1="247.40" x2="314.00" y2="247.40" stroke="#1a1a1a" stroke-width="1.4" />
<line x1="271.80" y1="189.40" x2="275.50" y2="189.40" stroke="#1a1a1a" stroke-width="1.25" />
<line x1="271.80" y1="195.90" x2="275.50" y2="195.90" stroke="#1a1a1a" stroke-width="1.25" />
<line x1="271.80" y1="226.40" x2="275.50" y2="226.40" stroke="#1a1a1a" stroke-width="1.25" />
<line x1="281.20" y1="247.40" x2="281.20" y2="251.00" stroke="#1a1a1a" stroke-width="1.2" />
<line x1="294.10" y1="247.40" x2="294.10" y2="251.00" stroke="#1a1a1a" stroke-width="1.2" />
<line x1="307.00" y1="247.40" x2="307.00" y2="251.00" stroke="#1a1a1a" stroke-width="1.2" />
<text x="267.80" y="192.19" font-size="7.8" fill="#1c1c1c" text-anchor="end" stroke="#1c1c1c" stroke-width="0.2" textLength="16.6" lengthAdjust="spacingAndGlyphs">5000</text>
<text x="267.80" y="198.99" font-size="7.8" fill="#1c1c1c" text-anchor="end" stroke="#1c1c1c" stroke-width="0.2" textLength="16.6" lengthAdjust="spacingAndGlyphs">3000</text>
<text x="267.80" y="207.69" font-size="7.8" fill="#1c1c1c" text-anchor="end" stroke="#1c1c1c" stroke-width="0.2" textLength="16.6" lengthAdjust="spacingAndGlyphs">1000</text>
<text x="267.80" y="229.19" font-size="7.8" fill="#1c1c1c" text-anchor="end" stroke="#1c1c1c" stroke-width="0.2" textLength="12.45" lengthAdjust="spacingAndGlyphs">500</text>
<text x="267.80" y="250.19" font-size="7.8" fill="#1c1c1c" text-anchor="end" stroke="#1c1c1c" stroke-width="0.2">0</text>
<rect x="289.60" y="328.10" width="9.15" height="3.00" fill="#2d4a82"/>
<rect x="302.50" y="322.35" width="9.00" height="8.75" fill="#a8022e"/>
<line x1="275.50" y1="270.35" x2="275.50" y2="284.10" stroke="#1a1a1a" stroke-width="1.35" />
<line x1="275.50" y1="288.60" x2="275.50" y2="331.75" stroke="#1a1a1a" stroke-width="1.35" />
<line x1="271.80" y1="284.10" x2="278.70" y2="284.10" stroke="#1a1a1a" stroke-width="1.3" />
<line x1="271.80" y1="288.60" x2="278.70" y2="288.60" stroke="#1a1a1a" stroke-width="1.3" />
<line x1="271.80" y1="331.10" x2="314.00" y2="331.10" stroke="#1a1a1a" stroke-width="1.4" />
<line x1="271.80" y1="273.10" x2="275.50" y2="273.10" stroke="#1a1a1a" stroke-width="1.25" />
<line x1="271.80" y1="279.60" x2="275.50" y2="279.60" stroke="#1a1a1a" stroke-width="1.25" />
<line x1="271.80" y1="310.10" x2="275.50" y2="310.10" stroke="#1a1a1a" stroke-width="1.25" />
<line x1="281.20" y1="331.10" x2="281.20" y2="334.70" stroke="#1a1a1a" stroke-width="1.2" />
<line x1="294.10" y1="331.10" x2="294.10" y2="334.70" stroke="#1a1a1a" stroke-width="1.2" />
<line x1="307.00" y1="331.10" x2="307.00" y2="334.70" stroke="#1a1a1a" stroke-width="1.2" />
<text x="267.80" y="275.89" font-size="7.8" fill="#1c1c1c" text-anchor="end" stroke="#1c1c1c" stroke-width="0.2" textLength="16.6" lengthAdjust="spacingAndGlyphs">5000</text>
<text x="267.80" y="282.69" font-size="7.8" fill="#1c1c1c" text-anchor="end" stroke="#1c1c1c" stroke-width="0.2" textLength="16.6" lengthAdjust="spacingAndGlyphs">3000</text>
<text x="267.80" y="291.39" font-size="7.8" fill="#1c1c1c" text-anchor="end" stroke="#1c1c1c" stroke-width="0.2" textLength="16.6" lengthAdjust="spacingAndGlyphs">1000</text>
<text x="267.80" y="312.89" font-size="7.8" fill="#1c1c1c" text-anchor="end" stroke="#1c1c1c" stroke-width="0.2" textLength="12.45" lengthAdjust="spacingAndGlyphs">500</text>
<text x="267.80" y="333.89" font-size="7.8" fill="#1c1c1c" text-anchor="end" stroke="#1c1c1c" stroke-width="0.2">0</text>
<rect x="289.60" y="369.90" width="9.15" height="45.20" fill="#2d4a82"/>
<rect x="289.60" y="364.20" width="9.15" height="1.40" fill="#2d4a82"/>
<rect x="302.50" y="369.90" width="9.00" height="45.20" fill="#a8022e"/>
<rect x="302.50" y="358.10" width="9.00" height="7.50" fill="#a8022e"/>
<line x1="275.50" y1="353.80" x2="275.50" y2="365.60" stroke="#1a1a1a" stroke-width="1.35" />
<line x1="275.50" y1="369.90" x2="275.50" y2="415.75" stroke="#1a1a1a" stroke-width="1.35" />
<line x1="271.80" y1="365.60" x2="278.70" y2="365.60" stroke="#1a1a1a" stroke-width="1.3" />
<line x1="271.80" y1="369.90" x2="278.70" y2="369.90" stroke="#1a1a1a" stroke-width="1.3" />
<line x1="271.80" y1="415.10" x2="314.00" y2="415.10" stroke="#1a1a1a" stroke-width="1.4" />
<line x1="271.80" y1="357.30" x2="275.50" y2="357.30" stroke="#1a1a1a" stroke-width="1.25" />
<line x1="271.80" y1="362.50" x2="275.50" y2="362.50" stroke="#1a1a1a" stroke-width="1.25" />
<line x1="271.80" y1="392.60" x2="275.50" y2="392.60" stroke="#1a1a1a" stroke-width="1.25" />
<line x1="281.20" y1="415.10" x2="281.20" y2="418.70" stroke="#1a1a1a" stroke-width="1.2" />
<line x1="294.10" y1="415.10" x2="294.10" y2="418.70" stroke="#1a1a1a" stroke-width="1.2" />
<line x1="307.00" y1="415.10" x2="307.00" y2="418.70" stroke="#1a1a1a" stroke-width="1.2" />
<text x="267.80" y="360.09" font-size="7.8" fill="#1c1c1c" text-anchor="end" stroke="#1c1c1c" stroke-width="0.2" textLength="16.6" lengthAdjust="spacingAndGlyphs">5000</text>
<text x="267.80" y="365.59" font-size="7.8" fill="#1c1c1c" text-anchor="end" stroke="#1c1c1c" stroke-width="0.2" textLength="16.6" lengthAdjust="spacingAndGlyphs">3000</text>
<text x="267.80" y="372.69" font-size="7.8" fill="#1c1c1c" text-anchor="end" stroke="#1c1c1c" stroke-width="0.2" textLength="16.6" lengthAdjust="spacingAndGlyphs">1000</text>
<text x="267.80" y="395.39" font-size="7.8" fill="#1c1c1c" text-anchor="end" stroke="#1c1c1c" stroke-width="0.2" textLength="12.45" lengthAdjust="spacingAndGlyphs">500</text>
<text x="267.80" y="417.89" font-size="7.8" fill="#1c1c1c" text-anchor="end" stroke="#1c1c1c" stroke-width="0.2">0</text>
<rect x="381.80" y="78.70" width="5.40" height="0.60" fill="#a8022e"/>
<rect x="388.70" y="76.40" width="5.50" height="2.90" fill="#2d4a82"/>
<rect x="400.60" y="78.70" width="5.40" height="0.60" fill="#a8022e"/>
<rect x="407.70" y="75.20" width="5.50" height="4.10" fill="#2d4a82"/>
<line x1="379.10" y1="18.70" x2="379.10" y2="79.95" stroke="#1a1a1a" stroke-width="1.4" />
<line x1="375.60" y1="79.30" x2="416.80" y2="79.30" stroke="#1a1a1a" stroke-width="1.4" />
<line x1="388.00" y1="79.30" x2="388.00" y2="82.70" stroke="#1a1a1a" stroke-width="1.2" />
<line x1="407.00" y1="79.30" x2="407.00" y2="82.70" stroke="#1a1a1a" stroke-width="1.2" />
<line x1="375.60" y1="21.70" x2="379.10" y2="21.70" stroke="#1a1a1a" stroke-width="1.25" />
<text x="372.80" y="24.49" font-size="7.8" fill="#1c1c1c" text-anchor="end" stroke="#1c1c1c" stroke-width="0.2" textLength="12.45" lengthAdjust="spacingAndGlyphs">600</text>
<line x1="375.60" y1="40.90" x2="379.10" y2="40.90" stroke="#1a1a1a" stroke-width="1.25" />
<text x="372.80" y="43.69" font-size="7.8" fill="#1c1c1c" text-anchor="end" stroke="#1c1c1c" stroke-width="0.2" textLength="12.45" lengthAdjust="spacingAndGlyphs">400</text>
<line x1="375.60" y1="60.10" x2="379.10" y2="60.10" stroke="#1a1a1a" stroke-width="1.25" />
<text x="372.80" y="62.89" font-size="7.8" fill="#1c1c1c" text-anchor="end" stroke="#1c1c1c" stroke-width="0.2" textLength="12.45" lengthAdjust="spacingAndGlyphs">200</text>
<line x1="375.60" y1="79.30" x2="379.10" y2="79.30" stroke="#1a1a1a" stroke-width="1.25" />
<text x="372.80" y="82.09" font-size="7.8" fill="#1c1c1c" text-anchor="end" stroke="#1c1c1c" stroke-width="0.2">0</text>
<rect x="381.80" y="159.85" width="5.40" height="3.75" fill="#a8022e"/>
<rect x="388.70" y="151.60" width="5.50" height="12.00" fill="#2d4a82"/>
<rect x="400.60" y="162.70" width="5.40" height="0.90" fill="#a8022e"/>
<rect x="407.70" y="159.30" width="5.50" height="4.30" fill="#2d4a82"/>
<line x1="379.10" y1="104.30" x2="379.10" y2="164.25" stroke="#1a1a1a" stroke-width="1.4" />
<line x1="375.60" y1="163.60" x2="416.80" y2="163.60" stroke="#1a1a1a" stroke-width="1.4" />
<line x1="388.00" y1="163.60" x2="388.00" y2="167.00" stroke="#1a1a1a" stroke-width="1.2" />
<line x1="407.00" y1="163.60" x2="407.00" y2="167.00" stroke="#1a1a1a" stroke-width="1.2" />
<line x1="375.60" y1="107.30" x2="379.10" y2="107.30" stroke="#1a1a1a" stroke-width="1.25" />
<text x="372.80" y="110.09" font-size="7.8" fill="#1c1c1c" text-anchor="end" stroke="#1c1c1c" stroke-width="0.2" textLength="12.45" lengthAdjust="spacingAndGlyphs">600</text>
<line x1="375.60" y1="126.07" x2="379.10" y2="126.07" stroke="#1a1a1a" stroke-width="1.25" />
<text x="372.80" y="128.86" font-size="7.8" fill="#1c1c1c" text-anchor="end" stroke="#1c1c1c" stroke-width="0.2" textLength="12.45" lengthAdjust="spacingAndGlyphs">400</text>
<line x1="375.60" y1="144.83" x2="379.10" y2="144.83" stroke="#1a1a1a" stroke-width="1.25" />
<text x="372.80" y="147.63" font-size="7.8" fill="#1c1c1c" text-anchor="end" stroke="#1c1c1c" stroke-width="0.2" textLength="12.45" lengthAdjust="spacingAndGlyphs">200</text>
<line x1="375.60" y1="163.60" x2="379.10" y2="163.60" stroke="#1a1a1a" stroke-width="1.25" />
<text x="372.80" y="166.39" font-size="7.8" fill="#1c1c1c" text-anchor="end" stroke="#1c1c1c" stroke-width="0.2">0</text>
<rect x="381.80" y="246.40" width="5.40" height="1.00" fill="#a8022e"/>
<rect x="388.70" y="246.20" width="5.50" height="1.20" fill="#2d4a82"/>
<rect x="400.60" y="246.50" width="5.40" height="0.90" fill="#a8022e"/>
<rect x="407.70" y="246.10" width="5.50" height="1.30" fill="#2d4a82"/>
<line x1="379.10" y1="188.40" x2="379.10" y2="248.05" stroke="#1a1a1a" stroke-width="1.4" />
<line x1="375.60" y1="247.40" x2="416.80" y2="247.40" stroke="#1a1a1a" stroke-width="1.4" />
<line x1="388.00" y1="247.40" x2="388.00" y2="250.80" stroke="#1a1a1a" stroke-width="1.2" />
<line x1="407.00" y1="247.40" x2="407.00" y2="250.80" stroke="#1a1a1a" stroke-width="1.2" />
<line x1="375.60" y1="191.40" x2="379.10" y2="191.40" stroke="#1a1a1a" stroke-width="1.25" />
<text x="372.80" y="194.19" font-size="7.8" fill="#1c1c1c" text-anchor="end" stroke="#1c1c1c" stroke-width="0.2" textLength="12.45" lengthAdjust="spacingAndGlyphs">600</text>
<line x1="375.60" y1="210.07" x2="379.10" y2="210.07" stroke="#1a1a1a" stroke-width="1.25" />
<text x="372.80" y="212.86" font-size="7.8" fill="#1c1c1c" text-anchor="end" stroke="#1c1c1c" stroke-width="0.2" textLength="12.45" lengthAdjust="spacingAndGlyphs">400</text>
<line x1="375.60" y1="228.73" x2="379.10" y2="228.73" stroke="#1a1a1a" stroke-width="1.25" />
<text x="372.80" y="231.53" font-size="7.8" fill="#1c1c1c" text-anchor="end" stroke="#1c1c1c" stroke-width="0.2" textLength="12.45" lengthAdjust="spacingAndGlyphs">200</text>
<line x1="375.60" y1="247.40" x2="379.10" y2="247.40" stroke="#1a1a1a" stroke-width="1.25" />
<text x="372.80" y="250.19" font-size="7.8" fill="#1c1c1c" text-anchor="end" stroke="#1c1c1c" stroke-width="0.2">0</text>
<rect x="381.80" y="327.20" width="5.40" height="3.90" fill="#a8022e"/>
<rect x="388.70" y="318.80" width="5.50" height="12.30" fill="#2d4a82"/>
<rect x="400.60" y="329.30" width="5.40" height="1.80" fill="#a8022e"/>
<rect x="407.70" y="314.00" width="5.50" height="17.10" fill="#2d4a82"/>
<line x1="379.10" y1="272.50" x2="379.10" y2="331.75" stroke="#1a1a1a" stroke-width="1.4" />
<line x1="375.60" y1="331.10" x2="416.80" y2="331.10" stroke="#1a1a1a" stroke-width="1.4" />
<line x1="388.00" y1="331.10" x2="388.00" y2="334.50" stroke="#1a1a1a" stroke-width="1.2" />
<line x1="407.00" y1="331.10" x2="407.00" y2="334.50" stroke="#1a1a1a" stroke-width="1.2" />
<line x1="375.60" y1="275.50" x2="379.10" y2="275.50" stroke="#1a1a1a" stroke-width="1.25" />
<text x="372.80" y="278.29" font-size="7.8" fill="#1c1c1c" text-anchor="end" stroke="#1c1c1c" stroke-width="0.2" textLength="12.45" lengthAdjust="spacingAndGlyphs">600</text>
<line x1="375.60" y1="294.03" x2="379.10" y2="294.03" stroke="#1a1a1a" stroke-width="1.25" />
<text x="372.80" y="296.83" font-size="7.8" fill="#1c1c1c" text-anchor="end" stroke="#1c1c1c" stroke-width="0.2" textLength="12.45" lengthAdjust="spacingAndGlyphs">400</text>
<line x1="375.60" y1="312.57" x2="379.10" y2="312.57" stroke="#1a1a1a" stroke-width="1.25" />
<text x="372.80" y="315.36" font-size="7.8" fill="#1c1c1c" text-anchor="end" stroke="#1c1c1c" stroke-width="0.2" textLength="12.45" lengthAdjust="spacingAndGlyphs">200</text>
<line x1="375.60" y1="331.10" x2="379.10" y2="331.10" stroke="#1a1a1a" stroke-width="1.25" />
<text x="372.80" y="333.89" font-size="7.8" fill="#1c1c1c" text-anchor="end" stroke="#1c1c1c" stroke-width="0.2">0</text>
<rect x="381.80" y="396.20" width="5.40" height="18.90" fill="#a8022e"/>
<rect x="388.70" y="360.30" width="5.50" height="54.80" fill="#2d4a82"/>
<rect x="400.60" y="392.00" width="5.40" height="23.10" fill="#a8022e"/>
<rect x="407.70" y="366.70" width="5.50" height="48.40" fill="#2d4a82"/>
<line x1="379.10" y1="356.30" x2="379.10" y2="415.75" stroke="#1a1a1a" stroke-width="1.4" />
<line x1="375.60" y1="415.10" x2="416.80" y2="415.10" stroke="#1a1a1a" stroke-width="1.4" />
<line x1="388.00" y1="415.10" x2="388.00" y2="418.50" stroke="#1a1a1a" stroke-width="1.2" />
<line x1="407.00" y1="415.10" x2="407.00" y2="418.50" stroke="#1a1a1a" stroke-width="1.2" />
<line x1="375.60" y1="359.30" x2="379.10" y2="359.30" stroke="#1a1a1a" stroke-width="1.25" />
<text x="372.80" y="362.09" font-size="7.8" fill="#1c1c1c" text-anchor="end" stroke="#1c1c1c" stroke-width="0.2" textLength="12.45" lengthAdjust="spacingAndGlyphs">600</text>
<line x1="375.60" y1="377.90" x2="379.10" y2="377.90" stroke="#1a1a1a" stroke-width="1.25" />
<text x="372.80" y="380.69" font-size="7.8" fill="#1c1c1c" text-anchor="end" stroke="#1c1c1c" stroke-width="0.2" textLength="12.45" lengthAdjust="spacingAndGlyphs">400</text>
<line x1="375.60" y1="396.50" x2="379.10" y2="396.50" stroke="#1a1a1a" stroke-width="1.25" />
<text x="372.80" y="399.29" font-size="7.8" fill="#1c1c1c" text-anchor="end" stroke="#1c1c1c" stroke-width="0.2" textLength="12.45" lengthAdjust="spacingAndGlyphs">200</text>
<line x1="375.60" y1="415.10" x2="379.10" y2="415.10" stroke="#1a1a1a" stroke-width="1.25" />
<text x="372.80" y="417.89" font-size="7.8" fill="#1c1c1c" text-anchor="end" stroke="#1c1c1c" stroke-width="0.2">0</text>
<text transform="translate(96.00,426.10) rotate(-38)" font-size="8.1" fill="#1c1c1c" text-anchor="end" stroke="#1c1c1c" stroke-width="0.2" textLength="20.95" lengthAdjust="spacingAndGlyphs">BCMA</text>
<text transform="translate(113.00,426.40) rotate(-38)" font-size="8.1" fill="#1c1c1c" text-anchor="end" stroke="#1c1c1c" stroke-width="0.2" textLength="15.98" lengthAdjust="spacingAndGlyphs">TACI</text>
<text transform="translate(187.90,425.50) rotate(-41)" font-size="8.1" fill="#1c1c1c" text-anchor="end" stroke="#1c1c1c" stroke-width="0.2" textLength="40.43" lengthAdjust="spacingAndGlyphs">Tumor alone</text>
<text transform="translate(199.15,426.00) rotate(-41)" font-size="8.1" fill="#1c1c1c" text-anchor="end" stroke="#1c1c1c" stroke-width="0.2" textLength="9.66" lengthAdjust="spacingAndGlyphs">NT</text>
<text transform="translate(206.90,426.50) rotate(-41)" font-size="8.1" fill="#1c1c1c" text-anchor="end" stroke="#1c1c1c" stroke-width="0.2" textLength="27.79" lengthAdjust="spacingAndGlyphs">ACAR-H</text>
<text transform="translate(217.15,426.70) rotate(-41)" font-size="8.1" fill="#1c1c1c" text-anchor="end" stroke="#1c1c1c" stroke-width="0.2" textLength="37.06" lengthAdjust="spacingAndGlyphs">ACAR-CD8</text>
<text transform="translate(286.10,426.00) rotate(-41)" font-size="8.1" fill="#1c1c1c" text-anchor="end" stroke="#1c1c1c" stroke-width="0.2" textLength="9.66" lengthAdjust="spacingAndGlyphs">NT</text>
<text transform="translate(297.00,426.50) rotate(-41)" font-size="8.1" fill="#1c1c1c" text-anchor="end" stroke="#1c1c1c" stroke-width="0.2" textLength="27.79" lengthAdjust="spacingAndGlyphs">ACAR-H</text>
<text transform="translate(310.40,426.70) rotate(-41)" font-size="8.1" fill="#1c1c1c" text-anchor="end" stroke="#1c1c1c" stroke-width="0.2" textLength="37.06" lengthAdjust="spacingAndGlyphs">ACAR-CD8</text>
<text transform="translate(390.90,426.50) rotate(-41)" font-size="8.1" fill="#1c1c1c" text-anchor="end" stroke="#1c1c1c" stroke-width="0.2" textLength="27.79" lengthAdjust="spacingAndGlyphs">ACAR-H</text>
<text transform="translate(410.40,426.70) rotate(-41)" font-size="8.1" fill="#1c1c1c" text-anchor="end" stroke="#1c1c1c" stroke-width="0.2" textLength="37.06" lengthAdjust="spacingAndGlyphs">ACAR-CD8</text>
<rect x="427.00" y="393.20" width="7.30" height="6.90" fill="#a8022e"/>
<rect x="427.00" y="403.80" width="7.30" height="6.90" fill="#2d4a82"/>
<text x="438.10" y="399.20" font-size="8.0" fill="#222" text-anchor="start" stroke="#222" stroke-width="0.15" textLength="42.6" lengthAdjust="spacingAndGlyphs">ACAR Alone</text>
<text x="438.10" y="410.00" font-size="8.0" fill="#222" text-anchor="start" stroke="#222" stroke-width="0.15" textLength="47.2" lengthAdjust="spacingAndGlyphs">ACAR+Tumor</text>
<line x1="60.30" y1="501.00" x2="60.30" y2="591.00" stroke="#1a1a1a" stroke-width="1.4" />
<line x1="59.60" y1="590.40" x2="192.40" y2="590.40" stroke="#1a1a1a" stroke-width="1.5" />
<line x1="57.00" y1="504.05" x2="60.30" y2="504.05" stroke="#1a1a1a" stroke-width="1.2" />
<text x="52.60" y="506.84" font-size="7.8" fill="#1c1c1c" text-anchor="end" stroke="#1c1c1c" stroke-width="0.2" textLength="12.45" lengthAdjust="spacingAndGlyphs">100</text>
<line x1="57.00" y1="547.17" x2="60.30" y2="547.17" stroke="#1a1a1a" stroke-width="1.2" />
<text x="52.60" y="549.97" font-size="7.8" fill="#1c1c1c" text-anchor="end" stroke="#1c1c1c" stroke-width="0.2" textLength="8.3" lengthAdjust="spacingAndGlyphs">50</text>
<line x1="57.00" y1="590.30" x2="60.30" y2="590.30" stroke="#1a1a1a" stroke-width="1.2" />
<text x="52.60" y="593.09" font-size="7.8" fill="#1c1c1c" text-anchor="end" stroke="#1c1c1c" stroke-width="0.2">0</text>
<line x1="115.29" y1="590.40" x2="115.29" y2="593.80" stroke="#1a1a1a" stroke-width="1.2" />
<line x1="170.58" y1="590.40" x2="170.58" y2="593.80" stroke="#1a1a1a" stroke-width="1.2" />
<text x="60.00" y="604.00" font-size="7" fill="#1c1c1c" text-anchor="middle" stroke="#1c1c1c" stroke-width="0.22">0</text>
<text x="115.29" y="604.00" font-size="7" fill="#1c1c1c" text-anchor="middle" stroke="#1c1c1c" stroke-width="0.22">3</text>
<text x="170.58" y="604.00" font-size="7" fill="#1c1c1c" text-anchor="middle" stroke="#1c1c1c" stroke-width="0.22">6</text>
<text transform="translate(34.10,545.45) rotate(-90)" font-size="9.4" fill="#1c1c1c" stroke="#1c1c1c" stroke-width="0.22" text-anchor="middle" textLength="37.4" lengthAdjust="spacingAndGlyphs">% cytolysis</text>
<text x="124.60" y="618.60" font-size="9.3" fill="#1c1c1c" text-anchor="middle" stroke="#1c1c1c" stroke-width="0.22" textLength="13.8" lengthAdjust="spacingAndGlyphs">Day</text>
<line x1="78.43" y1="561.32" x2="78.43" y2="535.10" stroke="#a8022e" stroke-width="1.2" />
<line x1="76.43" y1="535.10" x2="80.43" y2="535.10" stroke="#a8022e" stroke-width="1.2" />
<line x1="76.43" y1="561.32" x2="80.43" y2="561.32" stroke="#a8022e" stroke-width="1.2" />
<line x1="115.29" y1="519.57" x2="115.29" y2="510.09" stroke="#a8022e" stroke-width="1.2" />
<line x1="113.29" y1="510.09" x2="117.29" y2="510.09" stroke="#a8022e" stroke-width="1.2" />
<line x1="113.29" y1="519.57" x2="117.29" y2="519.57" stroke="#a8022e" stroke-width="1.2" />
<line x1="78.43" y1="557.96" x2="78.43" y2="540.71" stroke="#2d4a82" stroke-width="1.2" />
<line x1="76.43" y1="540.71" x2="80.43" y2="540.71" stroke="#2d4a82" stroke-width="1.2" />
<line x1="76.43" y1="557.96" x2="80.43" y2="557.96" stroke="#2d4a82" stroke-width="1.2" />
<line x1="115.29" y1="538.03" x2="115.29" y2="517.85" stroke="#2d4a82" stroke-width="1.2" />
<line x1="113.29" y1="517.85" x2="117.29" y2="517.85" stroke="#2d4a82" stroke-width="1.2" />
<line x1="113.29" y1="538.03" x2="117.29" y2="538.03" stroke="#2d4a82" stroke-width="1.2" />
<line x1="189.01" y1="521.13" x2="189.01" y2="509.48" stroke="#2d4a82" stroke-width="1.2" />
<line x1="187.01" y1="509.48" x2="191.01" y2="509.48" stroke="#2d4a82" stroke-width="1.2" />
<line x1="187.01" y1="521.13" x2="191.01" y2="521.13" stroke="#2d4a82" stroke-width="1.2" />
<line x1="78.43" y1="588.32" x2="78.43" y2="559.25" stroke="#3e2d4e" stroke-width="1.2" />
<line x1="76.43" y1="559.25" x2="80.43" y2="559.25" stroke="#3e2d4e" stroke-width="1.2" />
<line x1="76.43" y1="588.32" x2="80.43" y2="588.32" stroke="#3e2d4e" stroke-width="1.2" />
<line x1="115.29" y1="590.04" x2="115.29" y2="574.77" stroke="#3e2d4e" stroke-width="1.2" />
<line x1="113.29" y1="574.77" x2="117.29" y2="574.77" stroke="#3e2d4e" stroke-width="1.2" />
<line x1="189.01" y1="590.04" x2="189.01" y2="560.97" stroke="#3e2d4e" stroke-width="1.2" />
<line x1="187.01" y1="560.97" x2="191.01" y2="560.97" stroke="#3e2d4e" stroke-width="1.2" />
<polyline points="78.43,573.48 115.29,587.97 189.01,584.52" fill="none" stroke="#3e2d4e" stroke-width="2.0" stroke-dasharray="4.2,2.4"/>
<polyline points="78.43,551.49 115.29,527.77 189.01,514.66" fill="none" stroke="#2d4a82" stroke-width="1.8"/>
<polyline points="78.43,551.92 115.29,514.75 189.01,506.29" fill="none" stroke="#a8022e" stroke-width="1.8"/>
<rect x="75.83" y="548.89" width="5.20" height="5.20" fill="#2d4a82"/>
<rect x="112.69" y="525.17" width="5.20" height="5.20" fill="#2d4a82"/>
<rect x="186.41" y="512.06" width="5.20" height="5.20" fill="#2d4a82"/>
<circle cx="115.29" cy="514.75" r="2.5" fill="#a8022e"/>
<circle cx="189.01" cy="506.29" r="2.5" fill="#a8022e"/>
<path d="M78.43,570.88 L81.63,575.68 L75.23,575.68 Z" fill="#fff" stroke="#3e2d4e" stroke-width="1.3"/>
<path d="M115.29,585.37 L118.49,590.17 L112.09,590.17 Z" fill="#fff" stroke="#3e2d4e" stroke-width="1.3"/>
<path d="M189.01,581.92 L192.21,586.72 L185.81,586.72 Z" fill="#fff" stroke="#3e2d4e" stroke-width="1.3"/>
<text x="119.30" y="514.50" font-size="10.5" fill="#6a1f33" text-anchor="middle" stroke="#6a1f33" stroke-width="0.3">*</text>
<text x="119.30" y="529.00" font-size="10.5" fill="#2f3d5c" text-anchor="middle" stroke="#2f3d5c" stroke-width="0.3">*</text>
<text x="194.10" y="507.30" font-size="10.5" fill="#5a2a35" text-anchor="middle" stroke="#5a2a35" stroke-width="0.3">*</text>
<text x="194.10" y="517.40" font-size="10.5" fill="#33425e" text-anchor="middle" stroke="#33425e" stroke-width="0.3">*</text>
<line x1="112.00" y1="629.00" x2="121.70" y2="629.00" stroke="#2d4a82" stroke-width="1.6" />
<rect x="114.60" y="626.60" width="4.60" height="4.80" fill="#2d4a82"/>
<text x="125.60" y="631.80" font-size="7.6" fill="#222" text-anchor="start" stroke="#222" stroke-width="0.22" textLength="28.8" lengthAdjust="spacingAndGlyphs">ACAR-H</text>
<line x1="112.00" y1="640.60" x2="121.70" y2="640.60" stroke="#a8022e" stroke-width="1.6" />
<circle cx="116.9" cy="640.6" r="2.3" fill="#a8022e"/>
<text x="125.60" y="643.40" font-size="7.6" fill="#222" text-anchor="start" stroke="#222" stroke-width="0.22" textLength="38.4" lengthAdjust="spacingAndGlyphs">ACAR-CD8</text>
<line x1="111.60" y1="651.80" x2="122.00" y2="651.80" stroke="#3e2d4e" stroke-width="1.4" />
<path d="M116.8,648.6 L119.9,653.6 L113.7,653.6 Z" fill="#fff" stroke="#3e2d4e" stroke-width="1.3"/>
<text x="125.60" y="654.30" font-size="7.6" fill="#222" text-anchor="start" stroke="#222" stroke-width="0.22" textLength="42.3" lengthAdjust="spacingAndGlyphs">Tumor alone</text>
<rect x="255.60" y="589.30" width="14.60" height="0.90" fill="#68ae3e"/>
<rect x="275.00" y="565.93" width="15.00" height="24.27" fill="#2d4a82"/>
<rect x="294.60" y="546.42" width="15.40" height="43.78" fill="#a8022e"/>
<line x1="282.60" y1="565.93" x2="282.60" y2="551.38" stroke="#1a1a1a" stroke-width="1.3" />
<line x1="279.40" y1="551.38" x2="285.80" y2="551.38" stroke="#1a1a1a" stroke-width="1.3" />
<line x1="302.40" y1="546.42" x2="302.40" y2="509.63" stroke="#1a1a1a" stroke-width="1.3" />
<line x1="299.20" y1="509.63" x2="305.60" y2="509.63" stroke="#1a1a1a" stroke-width="1.3" />
<line x1="253.30" y1="500.00" x2="253.30" y2="590.90" stroke="#1a1a1a" stroke-width="1.4" />
<line x1="249.60" y1="590.20" x2="312.80" y2="590.20" stroke="#1a1a1a" stroke-width="1.5" />
<line x1="249.60" y1="508.90" x2="253.30" y2="508.90" stroke="#1a1a1a" stroke-width="1.2" />
<text x="246.00" y="511.69" font-size="7.8" fill="#1c1c1c" text-anchor="end" stroke="#1c1c1c" stroke-width="0.2" textLength="16.6" lengthAdjust="spacingAndGlyphs">2000</text>
<line x1="249.60" y1="549.55" x2="253.30" y2="549.55" stroke="#1a1a1a" stroke-width="1.2" />
<text x="246.00" y="552.34" font-size="7.8" fill="#1c1c1c" text-anchor="end" stroke="#1c1c1c" stroke-width="0.2" textLength="16.6" lengthAdjust="spacingAndGlyphs">1000</text>
<line x1="249.60" y1="590.20" x2="253.30" y2="590.20" stroke="#1a1a1a" stroke-width="1.2" />
<text x="246.00" y="592.99" font-size="7.8" fill="#1c1c1c" text-anchor="end" stroke="#1c1c1c" stroke-width="0.2">0</text>
<line x1="262.70" y1="590.20" x2="262.70" y2="593.80" stroke="#1a1a1a" stroke-width="1.2" />
<line x1="282.60" y1="590.20" x2="282.60" y2="593.80" stroke="#1a1a1a" stroke-width="1.2" />
<line x1="302.40" y1="590.20" x2="302.40" y2="593.80" stroke="#1a1a1a" stroke-width="1.2" />
<text transform="translate(222.80,545.20) rotate(-90)" font-size="10.0" fill="#1c1c1c" stroke="#1c1c1c" stroke-width="0.22" text-anchor="middle" textLength="39.6" lengthAdjust="spacingAndGlyphs">IFNG pg/ml</text>
<text transform="translate(266.40,602.00) rotate(-45)" font-size="7.9" fill="#1c1c1c" text-anchor="end" stroke="#1c1c1c" stroke-width="0.2" textLength="9.73" lengthAdjust="spacingAndGlyphs">NT</text>
<text transform="translate(286.60,602.00) rotate(-45)" font-size="7.9" fill="#1c1c1c" text-anchor="end" stroke="#1c1c1c" stroke-width="0.2" textLength="27.99" lengthAdjust="spacingAndGlyphs">ACAR-H</text>
<text transform="translate(306.60,602.00) rotate(-45)" font-size="7.9" fill="#1c1c1c" text-anchor="end" stroke="#1c1c1c" stroke-width="0.2" textLength="37.32" lengthAdjust="spacingAndGlyphs">ACAR-CD8</text>
<rect x="382.80" y="572.59" width="9.20" height="17.61" fill="#a8022e"/>
<line x1="387.40" y1="572.59" x2="387.40" y2="561.96" stroke="#1a1a1a" stroke-width="1.3" />
<line x1="385.00" y1="561.96" x2="389.80" y2="561.96" stroke="#1a1a1a" stroke-width="1.3" />
<rect x="393.60" y="537.96" width="9.40" height="52.24" fill="#2d4a82"/>
<line x1="398.30" y1="537.96" x2="398.30" y2="506.92" stroke="#1a1a1a" stroke-width="1.3" />
<line x1="395.90" y1="506.92" x2="400.70" y2="506.92" stroke="#1a1a1a" stroke-width="1.3" />
<rect x="413.00" y="573.78" width="9.20" height="16.42" fill="#a8022e"/>
<line x1="417.60" y1="573.78" x2="417.60" y2="560.05" stroke="#1a1a1a" stroke-width="1.3" />
<line x1="415.20" y1="560.05" x2="420.00" y2="560.05" stroke="#1a1a1a" stroke-width="1.3" />
<rect x="423.60" y="543.93" width="9.40" height="46.27" fill="#2d4a82"/>
<line x1="428.30" y1="543.93" x2="428.30" y2="515.87" stroke="#1a1a1a" stroke-width="1.3" />
<line x1="425.90" y1="515.87" x2="430.70" y2="515.87" stroke="#1a1a1a" stroke-width="1.3" />
<line x1="378.20" y1="497.50" x2="378.20" y2="590.90" stroke="#1a1a1a" stroke-width="1.4" />
<line x1="374.60" y1="590.20" x2="437.80" y2="590.20" stroke="#1a1a1a" stroke-width="1.5" />
<line x1="374.60" y1="500.65" x2="378.20" y2="500.65" stroke="#1a1a1a" stroke-width="1.2" />
<text x="370.90" y="503.44" font-size="7.8" fill="#1c1c1c" text-anchor="end" stroke="#1c1c1c" stroke-width="0.2" textLength="12.45" lengthAdjust="spacingAndGlyphs">300</text>
<line x1="374.60" y1="530.50" x2="378.20" y2="530.50" stroke="#1a1a1a" stroke-width="1.2" />
<text x="370.90" y="533.29" font-size="7.8" fill="#1c1c1c" text-anchor="end" stroke="#1c1c1c" stroke-width="0.2" textLength="12.45" lengthAdjust="spacingAndGlyphs">200</text>
<line x1="374.60" y1="560.35" x2="378.20" y2="560.35" stroke="#1a1a1a" stroke-width="1.2" />
<text x="370.90" y="563.14" font-size="7.8" fill="#1c1c1c" text-anchor="end" stroke="#1c1c1c" stroke-width="0.2" textLength="12.45" lengthAdjust="spacingAndGlyphs">100</text>
<line x1="374.60" y1="590.20" x2="378.20" y2="590.20" stroke="#1a1a1a" stroke-width="1.2" />
<text x="370.90" y="592.99" font-size="7.8" fill="#1c1c1c" text-anchor="end" stroke="#1c1c1c" stroke-width="0.2">0</text>
<line x1="392.70" y1="590.20" x2="392.70" y2="593.80" stroke="#1a1a1a" stroke-width="1.2" />
<line x1="422.60" y1="590.20" x2="422.60" y2="593.80" stroke="#1a1a1a" stroke-width="1.2" />
<text transform="translate(340.60,544.85) rotate(-90)" font-size="9.0" fill="#1c1c1c" stroke="#1c1c1c" stroke-width="0.22" text-anchor="middle" textLength="61.8" lengthAdjust="spacingAndGlyphs">ACAR cells at D+7</text>
<text transform="translate(351.10,544.00) rotate(-90)" font-size="9.0" fill="#1c1c1c" stroke="#1c1c1c" stroke-width="0.22" text-anchor="middle" textLength="33.0" lengthAdjust="spacingAndGlyphs">(% of D0)</text>
<text transform="translate(397.20,602.20) rotate(-45)" font-size="7.9" fill="#1c1c1c" text-anchor="end" stroke="#1c1c1c" stroke-width="0.2" textLength="27.99" lengthAdjust="spacingAndGlyphs">ACAR-H</text>
<text transform="translate(427.00,602.20) rotate(-45)" font-size="7.9" fill="#1c1c1c" text-anchor="end" stroke="#1c1c1c" stroke-width="0.2" textLength="37.32" lengthAdjust="spacingAndGlyphs">ACAR-CD8</text>
<rect x="409.60" y="487.50" width="7.30" height="7.30" fill="#a8022e"/>
<rect x="409.60" y="498.00" width="7.30" height="7.40" fill="#2d4a82"/>
<text x="420.80" y="494.30" font-size="8.5" fill="#222" text-anchor="start" stroke="#222" stroke-width="0.22" textLength="42.7" lengthAdjust="spacingAndGlyphs">ACAR Alone</text>
<text x="420.80" y="504.70" font-size="8.5" fill="#222" text-anchor="start" stroke="#222" stroke-width="0.22" textLength="46.9" lengthAdjust="spacingAndGlyphs">ACAR+Tumor</text>
<rect x="61.00" y="724.40" width="5.30" height="57.20" fill="#a8022e"/>
<rect x="61.00" y="695.58" width="5.30" height="19.02" fill="#a8022e"/>
<rect x="66.30" y="724.40" width="5.30" height="57.20" fill="#2d4a82"/>
<rect x="66.30" y="710.00" width="5.30" height="4.60" fill="#2d4a82"/>
<rect x="78.50" y="724.40" width="5.30" height="57.20" fill="#a8022e"/>
<rect x="78.50" y="697.08" width="5.30" height="17.52" fill="#a8022e"/>
<rect x="96.20" y="767.36" width="4.90" height="14.25" fill="#a8022e"/>
<rect x="101.10" y="764.85" width="5.20" height="16.75" fill="#2d4a82"/>
<rect x="114.00" y="736.09" width="4.90" height="45.51" fill="#a8022e"/>
<rect x="118.90" y="758.62" width="5.20" height="22.98" fill="#2d4a82"/>
<rect x="132.10" y="731.16" width="4.90" height="50.44" fill="#a8022e"/>
<rect x="137.00" y="752.92" width="5.30" height="28.68" fill="#2d4a82"/>
<line x1="59.80" y1="692.80" x2="59.80" y2="714.60" stroke="#1a1a1a" stroke-width="1.4" />
<line x1="59.80" y1="724.40" x2="59.80" y2="782.30" stroke="#1a1a1a" stroke-width="1.4" />
<line x1="56.00" y1="714.60" x2="62.80" y2="714.60" stroke="#1a1a1a" stroke-width="1.3" />
<line x1="56.00" y1="724.40" x2="62.80" y2="724.40" stroke="#1a1a1a" stroke-width="1.3" />
<line x1="56.00" y1="781.60" x2="148.00" y2="781.60" stroke="#1a1a1a" stroke-width="1.5" />
<line x1="56.00" y1="697.50" x2="59.80" y2="697.50" stroke="#1a1a1a" stroke-width="1.2" />
<text x="53.00" y="700.40" font-size="8.1" fill="#1c1c1c" text-anchor="end" stroke="#1c1c1c" stroke-width="0.2" textLength="17.24" lengthAdjust="spacingAndGlyphs">5000</text>
<line x1="56.00" y1="710.00" x2="59.80" y2="710.00" stroke="#1a1a1a" stroke-width="1.2" />
<text x="53.00" y="712.90" font-size="8.1" fill="#1c1c1c" text-anchor="end" stroke="#1c1c1c" stroke-width="0.2" textLength="17.24" lengthAdjust="spacingAndGlyphs">3500</text>
<line x1="56.00" y1="724.40" x2="59.80" y2="724.40" stroke="#1a1a1a" stroke-width="1.2" />
<text x="53.00" y="727.30" font-size="8.1" fill="#1c1c1c" text-anchor="end" stroke="#1c1c1c" stroke-width="0.2" textLength="17.24" lengthAdjust="spacingAndGlyphs">1500</text>
<line x1="56.00" y1="743.10" x2="59.80" y2="743.10" stroke="#1a1a1a" stroke-width="1.2" />
<text x="53.00" y="746.00" font-size="8.1" fill="#1c1c1c" text-anchor="end" stroke="#1c1c1c" stroke-width="0.2" textLength="17.24" lengthAdjust="spacingAndGlyphs">1000</text>
<line x1="56.00" y1="762.35" x2="59.80" y2="762.35" stroke="#1a1a1a" stroke-width="1.2" />
<text x="53.00" y="765.25" font-size="8.1" fill="#1c1c1c" text-anchor="end" stroke="#1c1c1c" stroke-width="0.2" textLength="12.93" lengthAdjust="spacingAndGlyphs">500</text>
<line x1="56.00" y1="781.60" x2="59.80" y2="781.60" stroke="#1a1a1a" stroke-width="1.2" />
<text x="53.00" y="784.50" font-size="8.1" fill="#1c1c1c" text-anchor="end" stroke="#1c1c1c" stroke-width="0.2">0</text>
<line x1="68.40" y1="781.60" x2="68.40" y2="785.00" stroke="#1a1a1a" stroke-width="1.2" />
<line x1="86.00" y1="781.60" x2="86.00" y2="785.00" stroke="#1a1a1a" stroke-width="1.2" />
<line x1="103.30" y1="781.60" x2="103.30" y2="785.00" stroke="#1a1a1a" stroke-width="1.2" />
<line x1="121.10" y1="781.60" x2="121.10" y2="785.00" stroke="#1a1a1a" stroke-width="1.2" />
<line x1="138.50" y1="781.60" x2="138.50" y2="785.00" stroke="#1a1a1a" stroke-width="1.2" />
<text transform="translate(28.70,737.10) rotate(-90)" font-size="9.2" fill="#1c1c1c" stroke="#1c1c1c" stroke-width="0.22" text-anchor="middle" textLength="55.2" lengthAdjust="spacingAndGlyphs">Antigen density</text>
<text transform="translate(70.60,790.30) rotate(-45)" font-size="7.4" fill="#1c1c1c" text-anchor="end" stroke="#1c1c1c" stroke-width="0.2" textLength="22.5" lengthAdjust="spacingAndGlyphs">MM.1s</text>
<text transform="translate(88.20,790.30) rotate(-45)" font-size="7.4" fill="#1c1c1c" text-anchor="end" stroke="#1c1c1c" stroke-width="0.2" textLength="19.5" lengthAdjust="spacingAndGlyphs">U266</text>
<text transform="translate(105.50,790.30) rotate(-45)" font-size="7.4" fill="#1c1c1c" text-anchor="end" stroke="#1c1c1c" stroke-width="0.2" textLength="42.0" lengthAdjust="spacingAndGlyphs">CD138+ #51</text>
<text transform="translate(123.30,790.30) rotate(-45)" font-size="7.4" fill="#1c1c1c" text-anchor="end" stroke="#1c1c1c" stroke-width="0.2" textLength="42.0" lengthAdjust="spacingAndGlyphs">CD138+ #52</text>
<text transform="translate(140.70,790.30) rotate(-45)" font-size="7.4" fill="#1c1c1c" text-anchor="end" stroke="#1c1c1c" stroke-width="0.2" textLength="42.0" lengthAdjust="spacingAndGlyphs">CD138+ #53</text>
<rect x="152.70" y="696.30" width="7.50" height="7.40" fill="#a8022e"/>
<rect x="152.70" y="708.80" width="7.50" height="7.70" fill="#2d4a82"/>
<text x="163.70" y="702.60" font-size="8.5" fill="#222" text-anchor="start" stroke="#222" stroke-width="0.22" textLength="22.1" lengthAdjust="spacingAndGlyphs">BCMA</text>
<text x="163.70" y="715.50" font-size="8.5" fill="#222" text-anchor="start" stroke="#222" stroke-width="0.22" textLength="15.9" lengthAdjust="spacingAndGlyphs">TACI</text>
<rect x="256.30" y="697.38" width="6.50" height="84.22" fill="#a8022e"/>
<line x1="259.55" y1="697.38" x2="259.55" y2="690.38" stroke="#1a1a1a" stroke-width="1.3" />
<line x1="257.85" y1="690.38" x2="261.25" y2="690.38" stroke="#1a1a1a" stroke-width="1.3" />
<rect x="264.35" y="696.02" width="6.50" height="85.58" fill="#2d4a82"/>
<line x1="267.60" y1="696.02" x2="267.60" y2="688.24" stroke="#1a1a1a" stroke-width="1.3" />
<line x1="265.90" y1="688.24" x2="269.30" y2="688.24" stroke="#1a1a1a" stroke-width="1.3" />
<rect x="272.40" y="700.40" width="6.50" height="81.20" fill="#68ae3e"/>
<line x1="275.65" y1="700.40" x2="275.65" y2="691.84" stroke="#1a1a1a" stroke-width="1.3" />
<line x1="273.95" y1="691.84" x2="277.35" y2="691.84" stroke="#1a1a1a" stroke-width="1.3" />
<rect x="285.50" y="736.57" width="6.50" height="45.03" fill="#a8022e"/>
<line x1="288.75" y1="736.57" x2="288.75" y2="723.54" stroke="#1a1a1a" stroke-width="1.3" />
<line x1="287.05" y1="723.54" x2="290.45" y2="723.54" stroke="#1a1a1a" stroke-width="1.3" />
<rect x="293.55" y="775.38" width="6.50" height="6.22" fill="#2d4a82"/>
<line x1="296.80" y1="775.38" x2="296.80" y2="764.87" stroke="#1a1a1a" stroke-width="1.3" />
<line x1="295.10" y1="764.87" x2="298.50" y2="764.87" stroke="#1a1a1a" stroke-width="1.3" />
<rect x="301.60" y="738.62" width="6.50" height="42.98" fill="#68ae3e"/>
<line x1="304.85" y1="738.62" x2="304.85" y2="726.17" stroke="#1a1a1a" stroke-width="1.3" />
<line x1="303.15" y1="726.17" x2="306.55" y2="726.17" stroke="#1a1a1a" stroke-width="1.3" />
<rect x="314.60" y="719.07" width="6.50" height="62.53" fill="#a8022e"/>
<line x1="317.85" y1="719.07" x2="317.85" y2="708.47" stroke="#1a1a1a" stroke-width="1.3" />
<line x1="316.15" y1="708.47" x2="319.55" y2="708.47" stroke="#1a1a1a" stroke-width="1.3" />
<rect x="322.65" y="732.39" width="6.50" height="49.21" fill="#2d4a82"/>
<line x1="325.90" y1="732.39" x2="325.90" y2="723.64" stroke="#1a1a1a" stroke-width="1.3" />
<line x1="324.20" y1="723.64" x2="327.60" y2="723.64" stroke="#1a1a1a" stroke-width="1.3" />
<rect x="330.70" y="718.10" width="6.50" height="63.50" fill="#68ae3e"/>
<line x1="333.95" y1="718.10" x2="333.95" y2="707.20" stroke="#1a1a1a" stroke-width="1.3" />
<line x1="332.25" y1="707.20" x2="335.65" y2="707.20" stroke="#1a1a1a" stroke-width="1.3" />
<rect x="343.80" y="732.00" width="6.50" height="49.60" fill="#a8022e"/>
<line x1="347.05" y1="732.00" x2="347.05" y2="722.96" stroke="#1a1a1a" stroke-width="1.3" />
<line x1="345.35" y1="722.96" x2="348.75" y2="722.96" stroke="#1a1a1a" stroke-width="1.3" />
<rect x="351.85" y="749.12" width="6.50" height="32.48" fill="#2d4a82"/>
<line x1="355.10" y1="749.12" x2="355.10" y2="740.37" stroke="#1a1a1a" stroke-width="1.3" />
<line x1="353.40" y1="740.37" x2="356.80" y2="740.37" stroke="#1a1a1a" stroke-width="1.3" />
<rect x="359.90" y="746.10" width="6.50" height="35.50" fill="#68ae3e"/>
<line x1="363.15" y1="746.10" x2="363.15" y2="736.87" stroke="#1a1a1a" stroke-width="1.3" />
<line x1="361.45" y1="736.87" x2="364.85" y2="736.87" stroke="#1a1a1a" stroke-width="1.3" />
<rect x="372.70" y="739.78" width="6.50" height="41.82" fill="#a8022e"/>
<line x1="375.95" y1="739.78" x2="375.95" y2="726.85" stroke="#1a1a1a" stroke-width="1.3" />
<line x1="374.25" y1="726.85" x2="377.65" y2="726.85" stroke="#1a1a1a" stroke-width="1.3" />
<rect x="380.75" y="741.14" width="6.50" height="40.46" fill="#2d4a82"/>
<line x1="384.00" y1="741.14" x2="384.00" y2="728.11" stroke="#1a1a1a" stroke-width="1.3" />
<line x1="382.30" y1="728.11" x2="385.70" y2="728.11" stroke="#1a1a1a" stroke-width="1.3" />
<rect x="388.80" y="728.11" width="6.50" height="53.49" fill="#68ae3e"/>
<line x1="392.05" y1="728.11" x2="392.05" y2="714.11" stroke="#1a1a1a" stroke-width="1.3" />
<line x1="390.35" y1="714.11" x2="393.75" y2="714.11" stroke="#1a1a1a" stroke-width="1.3" />
<line x1="253.00" y1="681.30" x2="253.00" y2="782.30" stroke="#1a1a1a" stroke-width="1.4" />
<line x1="249.50" y1="781.60" x2="397.60" y2="781.60" stroke="#1a1a1a" stroke-width="1.5" />
<line x1="249.50" y1="684.35" x2="253.00" y2="684.35" stroke="#1a1a1a" stroke-width="1.2" />
<text x="246.50" y="687.14" font-size="7.8" fill="#1c1c1c" text-anchor="end" stroke="#1c1c1c" stroke-width="0.2" textLength="12.45" lengthAdjust="spacingAndGlyphs">100</text>
<line x1="249.50" y1="732.98" x2="253.00" y2="732.98" stroke="#1a1a1a" stroke-width="1.2" />
<text x="246.50" y="735.77" font-size="7.8" fill="#1c1c1c" text-anchor="end" stroke="#1c1c1c" stroke-width="0.2" textLength="8.3" lengthAdjust="spacingAndGlyphs">50</text>
<line x1="249.50" y1="781.60" x2="253.00" y2="781.60" stroke="#1a1a1a" stroke-width="1.2" />
<text x="246.50" y="784.39" font-size="7.8" fill="#1c1c1c" text-anchor="end" stroke="#1c1c1c" stroke-width="0.2">0</text>
<line x1="267.70" y1="781.60" x2="267.70" y2="785.00" stroke="#1a1a1a" stroke-width="1.2" />
<line x1="296.60" y1="781.60" x2="296.60" y2="785.00" stroke="#1a1a1a" stroke-width="1.2" />
<line x1="325.70" y1="781.60" x2="325.70" y2="785.00" stroke="#1a1a1a" stroke-width="1.2" />
<line x1="354.80" y1="781.60" x2="354.80" y2="785.00" stroke="#1a1a1a" stroke-width="1.2" />
<line x1="383.90" y1="781.60" x2="383.90" y2="785.00" stroke="#1a1a1a" stroke-width="1.2" />
<text transform="translate(227.20,731.50) rotate(-90)" font-size="10.0" fill="#1c1c1c" stroke="#1c1c1c" stroke-width="0.22" text-anchor="middle" textLength="38.0" lengthAdjust="spacingAndGlyphs">% cytolysis</text>
<text transform="translate(270.70,790.30) rotate(-45)" font-size="7.4" fill="#1c1c1c" text-anchor="end" stroke="#1c1c1c" stroke-width="0.2" textLength="22.5" lengthAdjust="spacingAndGlyphs">MM.1s</text>
<text transform="translate(299.60,790.30) rotate(-45)" font-size="7.4" fill="#1c1c1c" text-anchor="end" stroke="#1c1c1c" stroke-width="0.2" textLength="19.5" lengthAdjust="spacingAndGlyphs">U266</text>
<text transform="translate(328.70,790.30) rotate(-45)" font-size="7.4" fill="#1c1c1c" text-anchor="end" stroke="#1c1c1c" stroke-width="0.2" textLength="42.0" lengthAdjust="spacingAndGlyphs">CD138+ #51</text>
<text transform="translate(357.80,790.30) rotate(-45)" font-size="7.4" fill="#1c1c1c" text-anchor="end" stroke="#1c1c1c" stroke-width="0.2" textLength="42.0" lengthAdjust="spacingAndGlyphs">CD138+ #52</text>
<text transform="translate(386.90,790.30) rotate(-45)" font-size="7.4" fill="#1c1c1c" text-anchor="end" stroke="#1c1c1c" stroke-width="0.2" textLength="42.0" lengthAdjust="spacingAndGlyphs">CD138+ #53</text>
<line x1="258.50" y1="681.50" x2="266.30" y2="681.50" stroke="#1a1a1a" stroke-width="1.1" />
<line x1="258.50" y1="681.00" x2="258.50" y2="684.00" stroke="#1a1a1a" stroke-width="1.1" />
<line x1="266.30" y1="681.00" x2="266.30" y2="684.00" stroke="#1a1a1a" stroke-width="1.1" />
<text x="262.40" y="679.10" font-size="7.4" fill="#222" text-anchor="middle" stroke="#222" stroke-width="0.22" textLength="7.4" lengthAdjust="spacingAndGlyphs">ns</text>
<line x1="288.60" y1="716.90" x2="296.40" y2="716.90" stroke="#1a1a1a" stroke-width="1.1" />
<line x1="288.60" y1="716.40" x2="288.60" y2="719.40" stroke="#1a1a1a" stroke-width="1.1" />
<line x1="296.40" y1="716.40" x2="296.40" y2="719.40" stroke="#1a1a1a" stroke-width="1.1" />
<text x="292.50" y="718.20" font-size="10.5" fill="#222" text-anchor="middle" stroke="#222" stroke-width="0.3">*</text>
<line x1="317.70" y1="699.50" x2="325.50" y2="699.50" stroke="#1a1a1a" stroke-width="1.1" />
<line x1="317.70" y1="699.00" x2="317.70" y2="702.00" stroke="#1a1a1a" stroke-width="1.1" />
<line x1="325.50" y1="699.00" x2="325.50" y2="702.00" stroke="#1a1a1a" stroke-width="1.1" />
<text x="321.60" y="698.90" font-size="7.4" fill="#222" text-anchor="middle" stroke="#222" stroke-width="0.22" textLength="7.4" lengthAdjust="spacingAndGlyphs">ns</text>
<line x1="346.50" y1="713.80" x2="354.30" y2="713.80" stroke="#1a1a1a" stroke-width="1.1" />
<line x1="346.50" y1="713.30" x2="346.50" y2="716.30" stroke="#1a1a1a" stroke-width="1.1" />
<line x1="354.30" y1="713.30" x2="354.30" y2="716.30" stroke="#1a1a1a" stroke-width="1.1" />
<text x="350.40" y="713.10" font-size="7.4" fill="#222" text-anchor="middle" stroke="#222" stroke-width="0.22" textLength="7.4" lengthAdjust="spacingAndGlyphs">ns</text>
<line x1="375.60" y1="718.80" x2="383.40" y2="718.80" stroke="#1a1a1a" stroke-width="1.1" />
<line x1="375.60" y1="718.30" x2="375.60" y2="721.30" stroke="#1a1a1a" stroke-width="1.1" />
<line x1="383.40" y1="718.30" x2="383.40" y2="721.30" stroke="#1a1a1a" stroke-width="1.1" />
<text x="379.50" y="717.60" font-size="7.4" fill="#222" text-anchor="middle" stroke="#222" stroke-width="0.22" textLength="7.4" lengthAdjust="spacingAndGlyphs">ns</text>
<text x="401.30" y="775.60" font-size="7.2" fill="#222" text-anchor="start" stroke="#222" stroke-width="0.22" textLength="12.5" lengthAdjust="spacingAndGlyphs">n=3</text>
<rect x="403.50" y="687.30" width="7.20" height="6.90" fill="#a8022e"/>
<rect x="403.50" y="699.60" width="7.20" height="6.90" fill="#2d4a82"/>
<rect x="403.50" y="710.80" width="7.20" height="7.30" fill="#68ae3e"/>
<text x="414.70" y="693.30" font-size="8.5" fill="#222" text-anchor="start" stroke="#222" stroke-width="0.22" textLength="21.1" lengthAdjust="spacingAndGlyphs">Media</text>
<text x="414.70" y="706.10" font-size="8.5" fill="#222" text-anchor="start" stroke="#222" stroke-width="0.22" textLength="26.1" lengthAdjust="spacingAndGlyphs">aBCMA</text>
<text x="414.70" y="717.60" font-size="8.5" fill="#222" text-anchor="start" stroke="#222" stroke-width="0.22" textLength="31.1" lengthAdjust="spacingAndGlyphs">mulgG2a</text>
<rect x="0" y="0" width="520" height="1.7" fill="#000"/>
<rect x="0" y="0" width="1.8" height="830" fill="#000"/>
<rect x="518.2" y="0" width="1.8" height="830" fill="#000"/>
<rect x="0" y="828.2" width="520" height="1.8" fill="#000"/>
</svg>
</body></html>
